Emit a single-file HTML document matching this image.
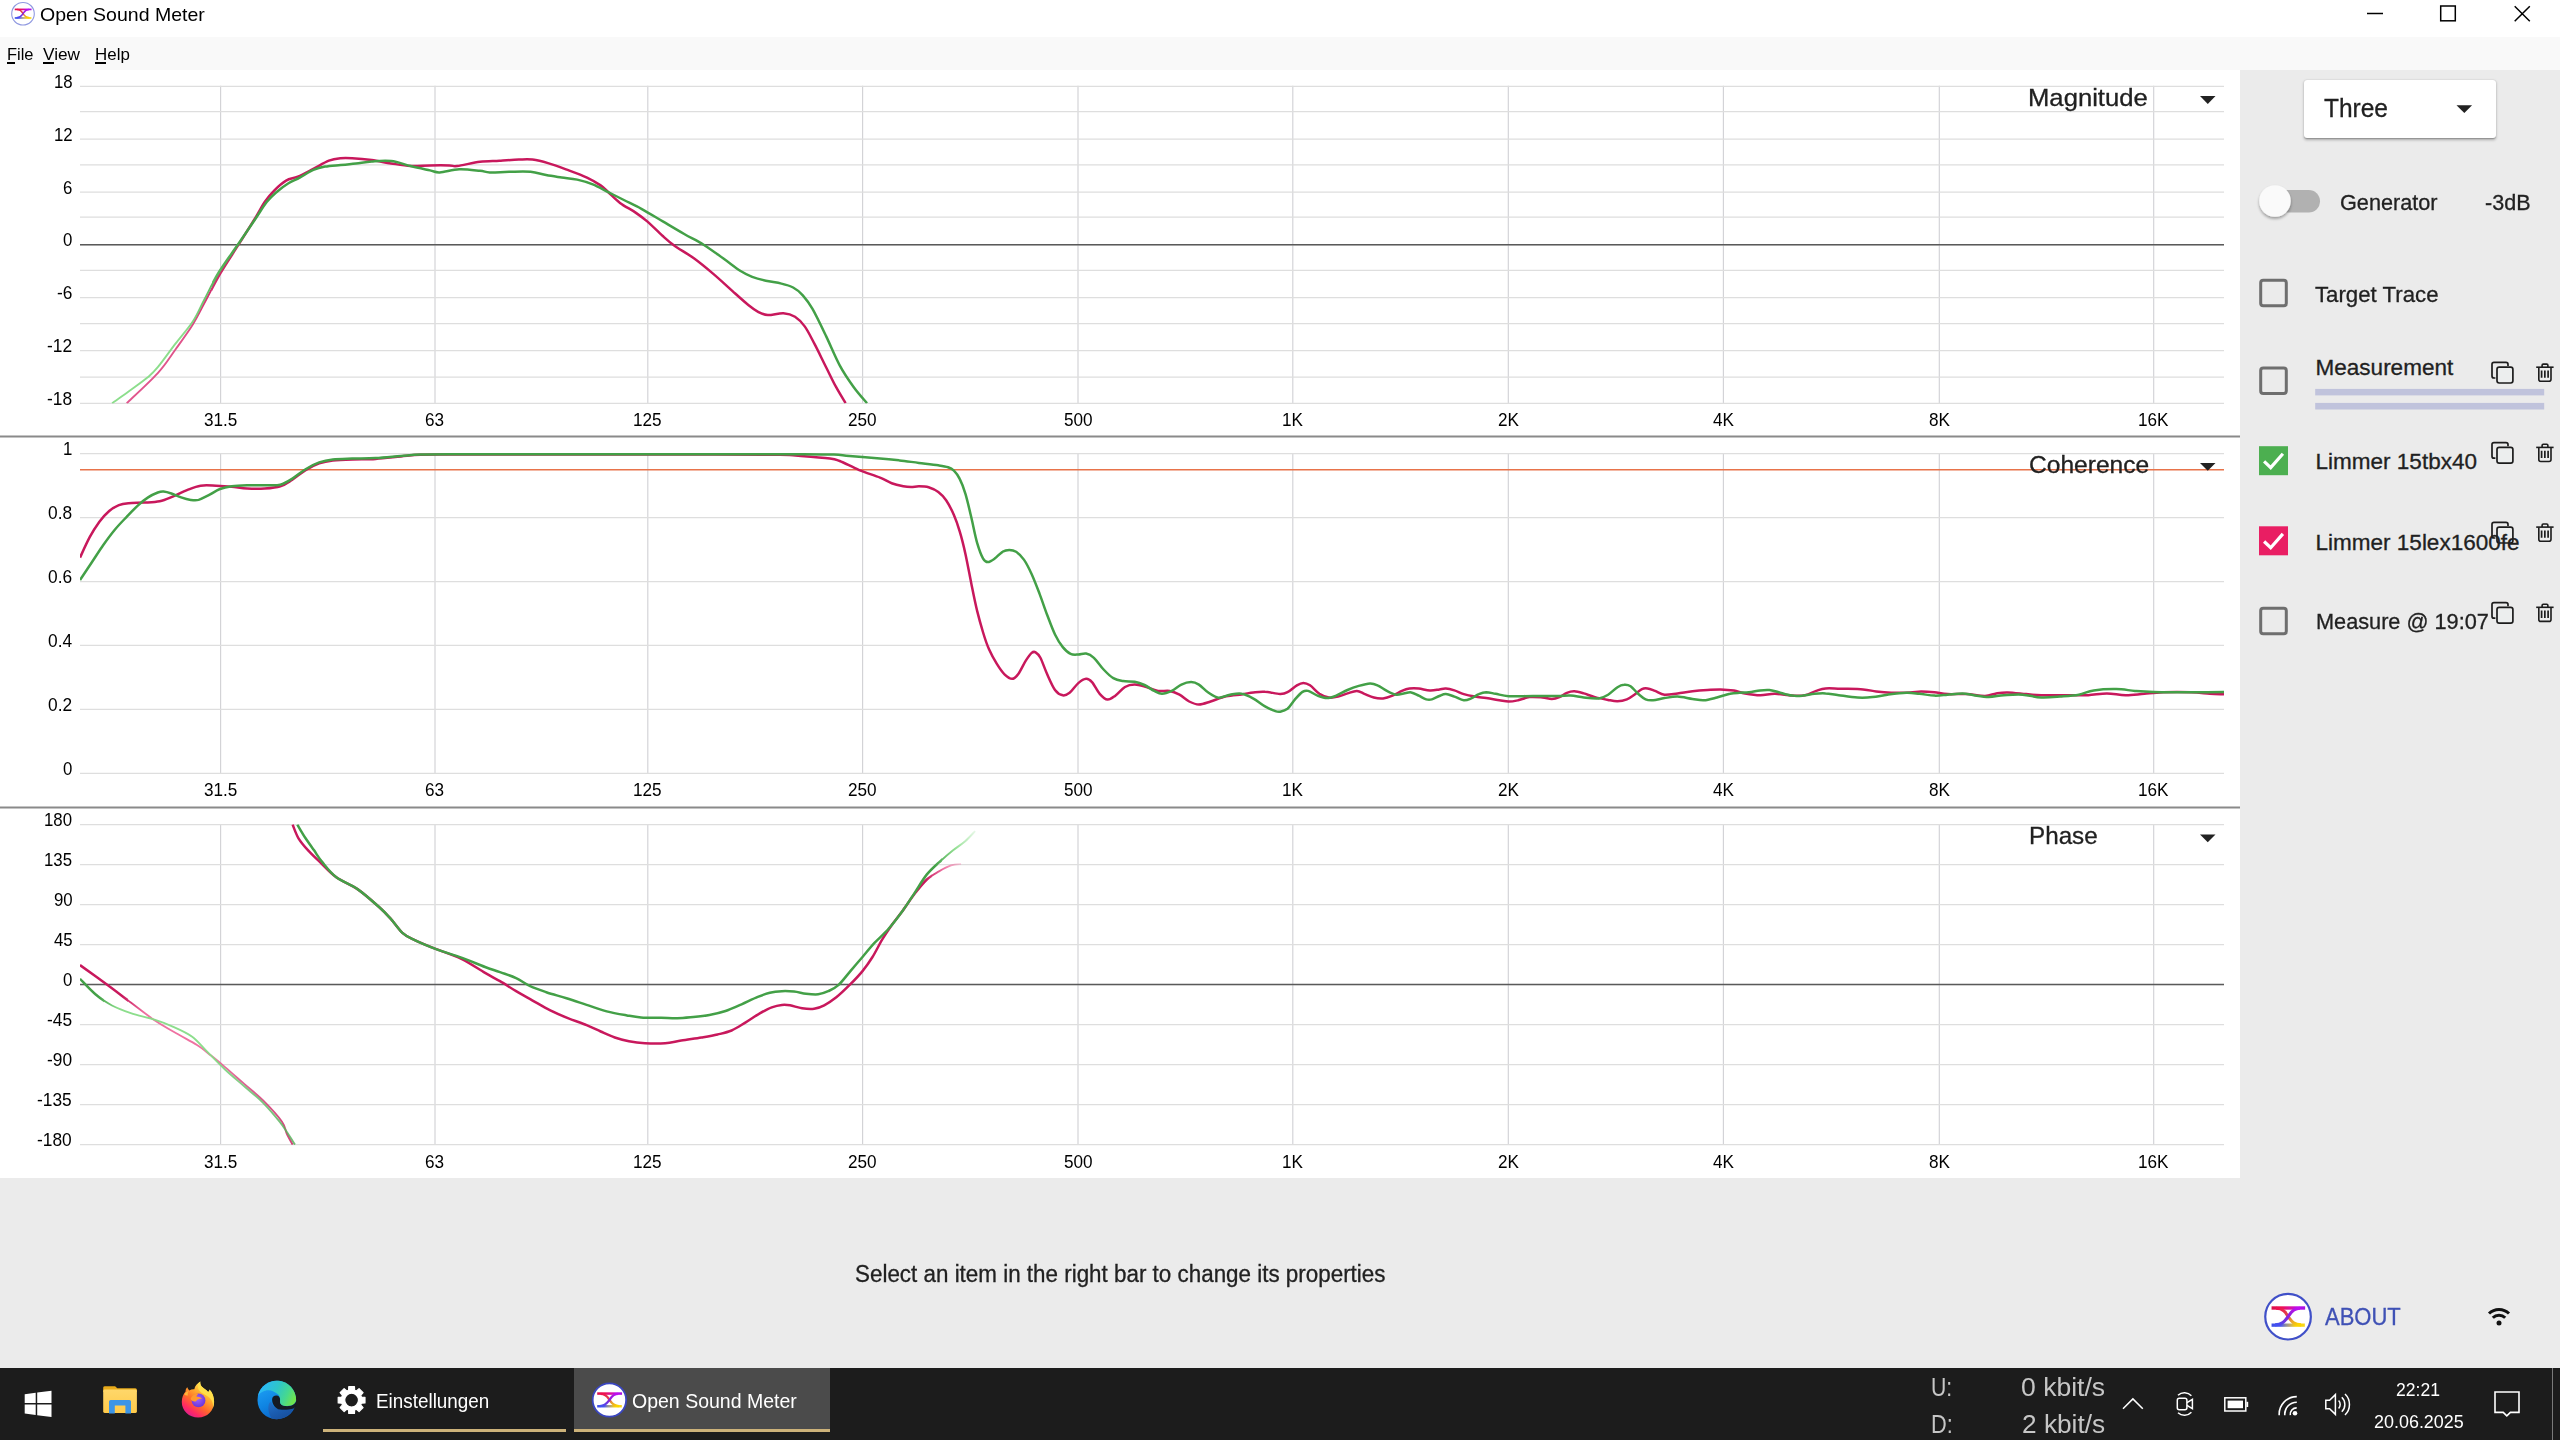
<!DOCTYPE html>
<html><head><meta charset="utf-8"><title>Open Sound Meter</title>
<style>
html,body{margin:0;padding:0;}
body{width:2560px;height:1440px;overflow:hidden;position:relative;background:#fff;font-family:"Liberation Sans",sans-serif;}
.t{position:absolute;white-space:nowrap;line-height:1;transform-origin:0 0;font-family:"Liberation Sans",sans-serif;}
.abs{position:absolute;}
svg{position:absolute;overflow:visible;}
</style></head><body>

<div class="abs" style="left:0;top:0;width:2560px;height:37px;background:#fff"></div>
<div class="abs" style="left:0;top:37px;width:2560px;height:33px;background:#f9f9f9"></div>
<div class="abs" style="left:0;top:70px;width:2240px;height:1108px;background:#fff"></div>
<div class="abs" style="left:0;top:1177.5px;width:2240px;height:191px;background:#ebebeb"></div>
<div class="abs" style="left:2240px;top:70px;width:320px;height:1298px;background:#ebebeb"></div>
<div class="abs" style="left:0;top:1368px;width:2560px;height:72px;background:#1c1c1c"></div>
<svg style="left:0;top:0" width="2560" height="1440"><g transform="translate(23.00 13.75) scale(0.5000)"><g>
<defs>
<linearGradient id="lgTa" gradientUnits="userSpaceOnUse" x1="-16.5" x2="17" y1="0" y2="0"><stop offset="0" stop-color="#d8104c"/><stop offset="0.3" stop-color="#ee1050"/><stop offset="0.6" stop-color="#d40fb0"/><stop offset="0.8" stop-color="#b80cf0"/><stop offset="1" stop-color="#a414e0"/></linearGradient>
<linearGradient id="lgBa" gradientUnits="userSpaceOnUse" x1="-16.5" x2="17" y1="0" y2="0"><stop offset="0" stop-color="#3d4fe8"/><stop offset="0.28" stop-color="#4a5af0"/><stop offset="0.42" stop-color="#8a8aa0"/><stop offset="0.58" stop-color="#c8b060"/><stop offset="0.72" stop-color="#fcd400"/><stop offset="1" stop-color="#f8d820"/></linearGradient>
<linearGradient id="lgD1a" gradientUnits="userSpaceOnUse" x1="-10" x2="10" y1="-8" y2="8"><stop offset="0" stop-color="#ee1050"/><stop offset="0.45" stop-color="#e04848"/><stop offset="0.7" stop-color="#e8a030"/><stop offset="1" stop-color="#fcd400"/></linearGradient>
<linearGradient id="lgD2a" gradientUnits="userSpaceOnUse" x1="10" x2="-10" y1="-8" y2="8"><stop offset="0" stop-color="#c00cf0"/><stop offset="0.5" stop-color="#8a22d8"/><stop offset="1" stop-color="#4450f0"/></linearGradient>
</defs>
<circle cx="0" cy="0" r="22.6" fill="#fff" stroke="#8f98e0" stroke-width="2.2"/>
<rect x="-16.5" y="-10.4" width="33.6" height="3.4" fill="url(#lgTa)"/>
<rect x="-16.5" y="6.8" width="33.3" height="3.3" fill="url(#lgBa)"/>
<path d="M-12 -8.4 C-3 -8.4 -1.5 -2 0.3 0.2 C3 3.6 5 8.2 13 8.2" fill="none" stroke="url(#lgD1a)" stroke-width="3.1"/>
<path d="M12 -8.4 C4 -8.4 2 -2.5 0 0 C-2.5 3.2 -5 8.2 -13 8.2" fill="none" stroke="url(#lgD2a)" stroke-width="3.1"/>
</g></g></svg>
<div class="t" style="left:40.20px;top:5.96px;font-size:18.60px;color:#000;transform:scaleX(1.0486);">Open Sound Meter</div>
<svg style="left:0;top:0" width="2560" height="40"><g stroke="#000" stroke-width="1.5" fill="none"><path d="M2367 13.5H2383"/><rect x="2440.7" y="6" width="14.6" height="14.8"/><path d="M2514.7 6.2L2529.8 21.3M2529.8 6.2L2514.7 21.3"/></g></svg>
<div class="t" style="left:6.50px;top:46.31px;font-size:17.00px;color:#000;transform:scaleX(0.9675);">File</div><div class="abs" style="left:6.5px;top:62.4px;width:8.3px;height:1.5px;background:#000"></div>
<div class="t" style="left:43.00px;top:46.31px;font-size:17.00px;color:#000;transform:scaleX(1.0126);">View</div><div class="abs" style="left:43.0px;top:62.4px;width:10.9px;height:1.5px;background:#000"></div>
<div class="t" style="left:94.60px;top:46.31px;font-size:17.00px;color:#000;transform:scaleX(0.9954);">Help</div><div class="abs" style="left:94.6px;top:62.4px;width:11.4px;height:1.5px;background:#000"></div>
<svg style="left:0;top:0" width="2240" height="1180" fill="none">
<defs>
<clipPath id="cm"><rect x="80" y="86" width="2144" height="317.6"/></clipPath>
<clipPath id="cc"><rect x="80" y="440" width="2144" height="335"/></clipPath>
<clipPath id="cp"><rect x="80" y="824.3" width="2144" height="320.6"/></clipPath>
<linearGradient id="gmg" gradientUnits="userSpaceOnUse" x1="100.0" y1="0" x2="900.0" y2="0"><stop offset="0.0000" stop-color="#86dc86" stop-opacity="0.95"/><stop offset="0.1062" stop-color="#86dc86" stop-opacity="0.95"/><stop offset="0.1437" stop-color="#5cb85f" stop-opacity="1.00"/><stop offset="0.1812" stop-color="#43a047" stop-opacity="1.00"/><stop offset="1.0000" stop-color="#43a047" stop-opacity="1.00"/></linearGradient>
<linearGradient id="gmr" gradientUnits="userSpaceOnUse" x1="100.0" y1="0" x2="900.0" y2="0"><stop offset="0.0000" stop-color="#e0508a" stop-opacity="0.95"/><stop offset="0.1062" stop-color="#de4a84" stop-opacity="0.95"/><stop offset="0.1437" stop-color="#d02a6a" stop-opacity="1.00"/><stop offset="0.1812" stop-color="#c8185c" stop-opacity="1.00"/><stop offset="1.0000" stop-color="#c8185c" stop-opacity="1.00"/></linearGradient>
<linearGradient id="gplg" gradientUnits="userSpaceOnUse" x1="80.0" y1="0" x2="300.0" y2="0"><stop offset="0.0000" stop-color="#43a047" stop-opacity="1.00"/><stop offset="0.0818" stop-color="#43a047" stop-opacity="1.00"/><stop offset="0.1727" stop-color="#86dc86" stop-opacity="0.95"/><stop offset="0.6136" stop-color="#86dc86" stop-opacity="0.95"/><stop offset="0.7273" stop-color="#66bf69" stop-opacity="0.80"/><stop offset="1.0000" stop-color="#55ad58" stop-opacity="0.85"/></linearGradient>
<linearGradient id="gplr" gradientUnits="userSpaceOnUse" x1="80.0" y1="0" x2="300.0" y2="0"><stop offset="0.0000" stop-color="#c8185c" stop-opacity="1.00"/><stop offset="0.1909" stop-color="#c8185c" stop-opacity="1.00"/><stop offset="0.2955" stop-color="#ee6a9c" stop-opacity="0.95"/><stop offset="0.6136" stop-color="#ee6a9c" stop-opacity="0.95"/><stop offset="0.7273" stop-color="#d84a82" stop-opacity="0.85"/><stop offset="1.0000" stop-color="#cc2a68" stop-opacity="0.90"/></linearGradient>
<linearGradient id="gphg" gradientUnits="userSpaceOnUse" x1="290.0" y1="0" x2="978.0" y2="0"><stop offset="0.0000" stop-color="#43a047" stop-opacity="1.00"/><stop offset="0.9375" stop-color="#43a047" stop-opacity="1.00"/><stop offset="0.9666" stop-color="#86dc86" stop-opacity="0.90"/><stop offset="1.0000" stop-color="#86dc86" stop-opacity="0.10"/></linearGradient>
<linearGradient id="gphr" gradientUnits="userSpaceOnUse" x1="290.0" y1="0" x2="964.0" y2="0"><stop offset="0.0000" stop-color="#c8185c" stop-opacity="1.00"/><stop offset="0.9421" stop-color="#c8185c" stop-opacity="1.00"/><stop offset="0.9718" stop-color="#ee6a9c" stop-opacity="0.90"/><stop offset="1.0000" stop-color="#ee6a9c" stop-opacity="0.15"/></linearGradient>
</defs>
<path d="M0 436.5H2240M0 807.5H2240" stroke="#8a8a8a" stroke-width="1.8"/>
<path d="M220.6 85.8V403.8" stroke="#d2d2d6" stroke-width="1.15"/>
<path d="M435.0 85.8V403.8" stroke="#d2d2d6" stroke-width="1.15"/>
<path d="M647.8 85.8V403.8" stroke="#d2d2d6" stroke-width="1.15"/>
<path d="M862.6 85.8V403.8" stroke="#d2d2d6" stroke-width="1.15"/>
<path d="M1078.0 85.8V403.8" stroke="#d2d2d6" stroke-width="1.15"/>
<path d="M1292.8 85.8V403.8" stroke="#d2d2d6" stroke-width="1.15"/>
<path d="M1508.3 85.8V403.8" stroke="#d2d2d6" stroke-width="1.15"/>
<path d="M1723.4 85.8V403.8" stroke="#d2d2d6" stroke-width="1.15"/>
<path d="M1939.3 85.8V403.8" stroke="#d2d2d6" stroke-width="1.15"/>
<path d="M2153.7 85.8V403.8" stroke="#d2d2d6" stroke-width="1.15"/>
<path d="M80 86.30H2224" stroke="#dedede" stroke-width="1.25"/>
<path d="M80 111.60H2224" stroke="#dedede" stroke-width="1.25"/>
<path d="M80 139.20H2224" stroke="#dedede" stroke-width="1.25"/>
<path d="M80 164.80H2224" stroke="#dedede" stroke-width="1.25"/>
<path d="M80 192.00H2224" stroke="#dedede" stroke-width="1.25"/>
<path d="M80 217.10H2224" stroke="#dedede" stroke-width="1.25"/>
<path d="M80 244.80H2224" stroke="#dedede" stroke-width="1.25"/>
<path d="M80 270.30H2224" stroke="#dedede" stroke-width="1.25"/>
<path d="M80 297.60H2224" stroke="#dedede" stroke-width="1.25"/>
<path d="M80 323.60H2224" stroke="#dedede" stroke-width="1.25"/>
<path d="M80 350.50H2224" stroke="#dedede" stroke-width="1.25"/>
<path d="M80 377.20H2224" stroke="#dedede" stroke-width="1.25"/>
<path d="M80 403.30H2224" stroke="#dedede" stroke-width="1.25"/>
<path d="M80 244.80H2224" stroke="#5a5a5a" stroke-width="1.5"/>
<path d="M220.6 453.1V773.9" stroke="#d2d2d6" stroke-width="1.15"/>
<path d="M435.0 453.1V773.9" stroke="#d2d2d6" stroke-width="1.15"/>
<path d="M647.8 453.1V773.9" stroke="#d2d2d6" stroke-width="1.15"/>
<path d="M862.6 453.1V773.9" stroke="#d2d2d6" stroke-width="1.15"/>
<path d="M1078.0 453.1V773.9" stroke="#d2d2d6" stroke-width="1.15"/>
<path d="M1292.8 453.1V773.9" stroke="#d2d2d6" stroke-width="1.15"/>
<path d="M1508.3 453.1V773.9" stroke="#d2d2d6" stroke-width="1.15"/>
<path d="M1723.4 453.1V773.9" stroke="#d2d2d6" stroke-width="1.15"/>
<path d="M1939.3 453.1V773.9" stroke="#d2d2d6" stroke-width="1.15"/>
<path d="M2153.7 453.1V773.9" stroke="#d2d2d6" stroke-width="1.15"/>
<path d="M80 453.60H2224" stroke="#dedede" stroke-width="1.25"/>
<path d="M80 517.56H2224" stroke="#dedede" stroke-width="1.25"/>
<path d="M80 581.52H2224" stroke="#dedede" stroke-width="1.25"/>
<path d="M80 645.48H2224" stroke="#dedede" stroke-width="1.25"/>
<path d="M80 709.44H2224" stroke="#dedede" stroke-width="1.25"/>
<path d="M80 773.40H2224" stroke="#dedede" stroke-width="1.25"/>
<path d="M220.6 824.0V1145.0" stroke="#d2d2d6" stroke-width="1.15"/>
<path d="M435.0 824.0V1145.0" stroke="#d2d2d6" stroke-width="1.15"/>
<path d="M647.8 824.0V1145.0" stroke="#d2d2d6" stroke-width="1.15"/>
<path d="M862.6 824.0V1145.0" stroke="#d2d2d6" stroke-width="1.15"/>
<path d="M1078.0 824.0V1145.0" stroke="#d2d2d6" stroke-width="1.15"/>
<path d="M1292.8 824.0V1145.0" stroke="#d2d2d6" stroke-width="1.15"/>
<path d="M1508.3 824.0V1145.0" stroke="#d2d2d6" stroke-width="1.15"/>
<path d="M1723.4 824.0V1145.0" stroke="#d2d2d6" stroke-width="1.15"/>
<path d="M1939.3 824.0V1145.0" stroke="#d2d2d6" stroke-width="1.15"/>
<path d="M2153.7 824.0V1145.0" stroke="#d2d2d6" stroke-width="1.15"/>
<path d="M80 824.50H2224" stroke="#dedede" stroke-width="1.25"/>
<path d="M80 864.50H2224" stroke="#dedede" stroke-width="1.25"/>
<path d="M80 904.50H2224" stroke="#dedede" stroke-width="1.25"/>
<path d="M80 944.50H2224" stroke="#dedede" stroke-width="1.25"/>
<path d="M80 984.50H2224" stroke="#dedede" stroke-width="1.25"/>
<path d="M80 1024.50H2224" stroke="#dedede" stroke-width="1.25"/>
<path d="M80 1064.50H2224" stroke="#dedede" stroke-width="1.25"/>
<path d="M80 1104.50H2224" stroke="#dedede" stroke-width="1.25"/>
<path d="M80 1144.50H2224" stroke="#dedede" stroke-width="1.25"/>
<path d="M80 984.50H2224" stroke="#5a5a5a" stroke-width="1.5"/>
<path d="M80 469.7H2224" stroke="#e8734a" stroke-width="1.6"/>
<clipPath id="k1"><rect x="80.0" y="86.0" width="132.0" height="317.6"/></clipPath><path d="M126.7 403.2C131.9 398.2 149.7 382.0 157.8 373.1C165.9 364.2 169.5 357.8 175.3 349.7C181.1 341.6 187.6 332.9 192.8 324.5C198.0 316.1 201.9 307.6 206.4 299.2C210.9 290.8 214.7 283.0 220.0 273.9C225.3 264.8 232.7 253.9 238.5 244.7C244.3 235.5 250.6 225.6 255.0 218.5C259.4 211.4 261.5 206.7 264.7 202.0C267.9 197.3 270.8 193.9 274.4 190.3C278.0 186.7 282.2 182.9 286.1 180.6C290.0 178.3 293.3 178.6 297.8 176.7C302.3 174.8 308.1 171.6 313.3 168.9C318.5 166.2 324.3 162.5 328.9 160.7C333.4 158.9 336.7 158.6 340.6 158.2C344.5 157.8 347.0 157.9 352.2 158.2C357.4 158.5 365.2 159.2 371.7 160.1C378.2 161.0 384.6 162.4 391.1 163.4C397.6 164.4 404.1 165.7 410.6 166.0C417.1 166.3 423.5 165.5 430.0 165.4C436.5 165.3 445.0 165.3 449.5 165.4C454.0 165.5 452.1 166.6 457.2 166.0C462.3 165.4 473.0 162.7 480.0 161.8C487.0 160.9 492.9 161.1 499.4 160.7C505.9 160.3 513.4 159.8 518.9 159.6C524.4 159.4 527.6 159.0 532.5 159.6C537.4 160.2 542.2 161.4 548.0 163.1C553.8 164.8 561.0 167.5 567.5 169.9C574.0 172.3 581.5 175.0 587.0 177.6C592.5 180.2 597.1 183.0 600.6 185.4C604.1 187.8 605.1 189.3 608.3 192.2C611.5 195.1 615.5 199.5 620.0 202.9C624.5 206.3 631.1 209.5 635.6 212.6C640.1 215.7 642.7 217.5 647.2 221.4C651.7 225.3 658.2 231.9 662.8 236.0C667.3 240.1 669.3 242.0 674.5 245.7C679.7 249.4 687.4 253.6 693.9 258.3C700.4 263.0 706.8 268.4 713.3 273.9C719.8 279.4 727.0 286.2 732.8 291.4C738.6 296.6 744.1 301.6 748.3 305.0C752.5 308.4 754.9 310.1 758.1 311.8C761.4 313.5 763.6 314.9 767.8 315.1C772.0 315.3 778.9 312.9 783.4 313.2C787.9 313.5 791.5 314.5 795.0 316.7C798.5 318.9 801.5 321.9 804.7 326.4C808.0 330.9 810.9 337.1 814.5 343.9C818.1 350.7 822.5 360.1 826.1 367.2C829.7 374.3 832.6 380.7 835.9 386.7C839.1 392.7 844.0 400.4 845.6 403.2" stroke="url(#gmr)" stroke-width="1.9" stroke-linejoin="round" clip-path="url(#k1)"/>
<clipPath id="k2"><rect x="212.0" y="86.0" width="2012.0" height="317.6"/></clipPath><path d="M126.7 403.2C131.9 398.2 149.7 382.0 157.8 373.1C165.9 364.2 169.5 357.8 175.3 349.7C181.1 341.6 187.6 332.9 192.8 324.5C198.0 316.1 201.9 307.6 206.4 299.2C210.9 290.8 214.7 283.0 220.0 273.9C225.3 264.8 232.7 253.9 238.5 244.7C244.3 235.5 250.6 225.6 255.0 218.5C259.4 211.4 261.5 206.7 264.7 202.0C267.9 197.3 270.8 193.9 274.4 190.3C278.0 186.7 282.2 182.9 286.1 180.6C290.0 178.3 293.3 178.6 297.8 176.7C302.3 174.8 308.1 171.6 313.3 168.9C318.5 166.2 324.3 162.5 328.9 160.7C333.4 158.9 336.7 158.6 340.6 158.2C344.5 157.8 347.0 157.9 352.2 158.2C357.4 158.5 365.2 159.2 371.7 160.1C378.2 161.0 384.6 162.4 391.1 163.4C397.6 164.4 404.1 165.7 410.6 166.0C417.1 166.3 423.5 165.5 430.0 165.4C436.5 165.3 445.0 165.3 449.5 165.4C454.0 165.5 452.1 166.6 457.2 166.0C462.3 165.4 473.0 162.7 480.0 161.8C487.0 160.9 492.9 161.1 499.4 160.7C505.9 160.3 513.4 159.8 518.9 159.6C524.4 159.4 527.6 159.0 532.5 159.6C537.4 160.2 542.2 161.4 548.0 163.1C553.8 164.8 561.0 167.5 567.5 169.9C574.0 172.3 581.5 175.0 587.0 177.6C592.5 180.2 597.1 183.0 600.6 185.4C604.1 187.8 605.1 189.3 608.3 192.2C611.5 195.1 615.5 199.5 620.0 202.9C624.5 206.3 631.1 209.5 635.6 212.6C640.1 215.7 642.7 217.5 647.2 221.4C651.7 225.3 658.2 231.9 662.8 236.0C667.3 240.1 669.3 242.0 674.5 245.7C679.7 249.4 687.4 253.6 693.9 258.3C700.4 263.0 706.8 268.4 713.3 273.9C719.8 279.4 727.0 286.2 732.8 291.4C738.6 296.6 744.1 301.6 748.3 305.0C752.5 308.4 754.9 310.1 758.1 311.8C761.4 313.5 763.6 314.9 767.8 315.1C772.0 315.3 778.9 312.9 783.4 313.2C787.9 313.5 791.5 314.5 795.0 316.7C798.5 318.9 801.5 321.9 804.7 326.4C808.0 330.9 810.9 337.1 814.5 343.9C818.1 350.7 822.5 360.1 826.1 367.2C829.7 374.3 832.6 380.7 835.9 386.7C839.1 392.7 844.0 400.4 845.6 403.2" stroke="url(#gmr)" stroke-width="2.5" stroke-linejoin="round" clip-path="url(#k2)"/>
<clipPath id="k3"><rect x="80.0" y="86.0" width="132.0" height="317.6"/></clipPath><path d="M112.1 403.2C114.8 401.2 122.6 395.9 128.6 391.5C134.6 387.1 143.2 381.1 148.1 377.0C153.0 372.9 153.3 372.7 157.8 367.2C162.3 361.7 169.5 351.5 175.3 343.9C181.1 336.3 187.9 328.9 192.8 321.5C197.7 314.1 200.1 307.4 204.5 299.2C208.9 290.9 213.3 281.2 219.0 272.0C224.7 262.8 232.5 252.6 238.5 243.8C244.5 235.1 250.3 226.5 255.0 219.5C259.7 212.5 263.1 206.6 266.7 202.0C270.3 197.4 272.8 195.3 276.4 192.2C280.0 189.1 284.2 185.9 288.1 183.5C292.0 181.1 295.5 179.9 299.7 177.6C303.9 175.3 309.1 171.7 313.3 169.9C317.5 168.1 320.4 167.4 325.0 166.6C329.6 165.8 335.4 165.5 340.6 165.0C345.8 164.5 350.9 164.0 356.1 163.4C361.3 162.8 365.9 161.9 371.7 161.5C377.5 161.1 384.6 160.3 391.1 161.1C397.6 161.8 404.1 164.4 410.6 166.0C417.1 167.6 425.1 169.3 430.0 170.4C434.9 171.5 434.8 172.6 439.7 172.4C444.6 172.2 452.5 169.6 459.2 169.3C465.9 169.0 474.9 170.3 480.0 170.8C485.1 171.3 484.8 172.2 489.7 172.4C494.6 172.6 502.4 171.9 509.2 171.8C516.0 171.7 524.5 171.2 530.6 171.8C536.8 172.4 540.9 174.1 546.1 175.1C551.3 176.1 556.5 176.8 561.7 177.6C566.9 178.3 572.0 178.5 577.2 179.6C582.4 180.7 587.6 182.3 592.8 184.4C598.0 186.5 603.1 189.6 608.3 192.2C613.5 194.8 618.4 197.2 623.9 200.0C629.4 202.8 634.9 205.2 641.4 208.8C647.9 212.4 655.7 217.2 662.8 221.4C669.9 225.6 677.4 230.1 684.2 234.0C691.0 237.9 697.1 240.6 703.6 244.7C710.1 248.8 716.9 253.9 723.1 258.3C729.3 262.7 735.8 267.9 740.6 271.0C745.5 274.1 748.0 275.2 752.2 276.8C756.4 278.4 760.9 279.6 765.8 280.7C770.7 281.8 776.8 282.5 781.4 283.6C786.0 284.7 789.5 285.6 793.1 287.5C796.7 289.4 799.6 291.7 802.8 295.3C806.0 298.9 808.6 302.1 812.5 308.9C816.4 315.7 821.6 326.7 826.1 336.1C830.6 345.5 835.2 356.9 839.7 365.3C844.2 373.7 848.9 380.4 853.4 386.7C857.9 393.0 864.7 400.4 867.0 403.2" stroke="url(#gmg)" stroke-width="1.9" stroke-linejoin="round" clip-path="url(#k3)"/>
<clipPath id="k4"><rect x="212.0" y="86.0" width="2012.0" height="317.6"/></clipPath><path d="M112.1 403.2C114.8 401.2 122.6 395.9 128.6 391.5C134.6 387.1 143.2 381.1 148.1 377.0C153.0 372.9 153.3 372.7 157.8 367.2C162.3 361.7 169.5 351.5 175.3 343.9C181.1 336.3 187.9 328.9 192.8 321.5C197.7 314.1 200.1 307.4 204.5 299.2C208.9 290.9 213.3 281.2 219.0 272.0C224.7 262.8 232.5 252.6 238.5 243.8C244.5 235.1 250.3 226.5 255.0 219.5C259.7 212.5 263.1 206.6 266.7 202.0C270.3 197.4 272.8 195.3 276.4 192.2C280.0 189.1 284.2 185.9 288.1 183.5C292.0 181.1 295.5 179.9 299.7 177.6C303.9 175.3 309.1 171.7 313.3 169.9C317.5 168.1 320.4 167.4 325.0 166.6C329.6 165.8 335.4 165.5 340.6 165.0C345.8 164.5 350.9 164.0 356.1 163.4C361.3 162.8 365.9 161.9 371.7 161.5C377.5 161.1 384.6 160.3 391.1 161.1C397.6 161.8 404.1 164.4 410.6 166.0C417.1 167.6 425.1 169.3 430.0 170.4C434.9 171.5 434.8 172.6 439.7 172.4C444.6 172.2 452.5 169.6 459.2 169.3C465.9 169.0 474.9 170.3 480.0 170.8C485.1 171.3 484.8 172.2 489.7 172.4C494.6 172.6 502.4 171.9 509.2 171.8C516.0 171.7 524.5 171.2 530.6 171.8C536.8 172.4 540.9 174.1 546.1 175.1C551.3 176.1 556.5 176.8 561.7 177.6C566.9 178.3 572.0 178.5 577.2 179.6C582.4 180.7 587.6 182.3 592.8 184.4C598.0 186.5 603.1 189.6 608.3 192.2C613.5 194.8 618.4 197.2 623.9 200.0C629.4 202.8 634.9 205.2 641.4 208.8C647.9 212.4 655.7 217.2 662.8 221.4C669.9 225.6 677.4 230.1 684.2 234.0C691.0 237.9 697.1 240.6 703.6 244.7C710.1 248.8 716.9 253.9 723.1 258.3C729.3 262.7 735.8 267.9 740.6 271.0C745.5 274.1 748.0 275.2 752.2 276.8C756.4 278.4 760.9 279.6 765.8 280.7C770.7 281.8 776.8 282.5 781.4 283.6C786.0 284.7 789.5 285.6 793.1 287.5C796.7 289.4 799.6 291.7 802.8 295.3C806.0 298.9 808.6 302.1 812.5 308.9C816.4 315.7 821.6 326.7 826.1 336.1C830.6 345.5 835.2 356.9 839.7 365.3C844.2 373.7 848.9 380.4 853.4 386.7C857.9 393.0 864.7 400.4 867.0 403.2" stroke="url(#gmg)" stroke-width="2.5" stroke-linejoin="round" clip-path="url(#k4)"/>
<g clip-path="url(#cc)" stroke-width="2.5" stroke-linejoin="round">
<path d="M80.0 557.6C81.6 554.2 86.5 543.2 89.7 537.2C92.9 531.2 96.2 526.1 99.4 521.7C102.7 517.3 106.0 513.8 109.2 511.0C112.5 508.2 115.7 506.4 118.9 505.1C122.1 503.8 124.4 503.6 128.6 503.2C132.8 502.8 139.0 502.9 144.2 502.6C149.4 502.3 154.8 502.3 159.7 501.3C164.5 500.3 168.8 498.2 173.3 496.4C177.9 494.5 182.4 492.0 187.0 490.2C191.6 488.4 195.8 486.4 200.6 485.7C205.4 484.9 210.9 485.5 216.1 485.7C221.3 485.9 226.5 486.2 231.7 486.7C236.9 487.2 241.7 488.3 247.2 488.6C252.7 488.9 259.2 489.0 264.7 488.6C270.2 488.2 275.8 487.8 280.3 486.3C284.9 484.9 287.8 482.6 292.0 479.9C296.2 477.2 301.1 472.9 305.6 470.1C310.1 467.3 314.7 464.9 319.2 463.3C323.7 461.7 327.3 461.0 332.8 460.4C338.3 459.8 345.1 459.6 352.2 459.4C359.3 459.1 367.5 459.4 375.6 458.9C383.7 458.4 393.4 457.2 400.9 456.5C408.3 455.8 412.2 455.1 420.3 454.8C428.4 454.5 439.6 454.6 449.5 454.6C459.4 454.6 454.9 454.6 480.0 454.6C505.1 454.6 563.3 454.6 600.0 454.6C636.7 454.6 670.0 454.6 700.0 454.6C730.0 454.6 763.2 454.6 780.0 454.8C796.8 455.0 792.6 455.4 800.9 456.0C809.2 456.6 823.5 457.7 830.0 458.5C836.5 459.3 834.8 459.1 839.7 461.0C844.6 462.9 852.5 467.3 859.2 470.1C865.9 472.9 874.6 475.4 880.0 477.6C885.4 479.8 887.8 481.8 891.7 483.2C895.6 484.6 900.1 485.6 903.3 486.3C906.5 487.0 908.5 487.1 911.1 487.1C913.7 487.1 916.0 486.3 918.9 486.3C921.8 486.3 925.4 486.3 928.6 487.3C931.8 488.3 935.4 489.9 938.3 492.1C941.2 494.3 943.5 496.5 946.1 500.3C948.7 504.1 951.6 509.7 953.9 514.9C956.2 520.1 957.8 524.8 959.7 531.4C961.7 538.0 963.7 546.0 965.6 554.7C967.5 563.5 969.5 574.5 971.4 583.9C973.3 593.3 975.2 603.0 977.2 611.1C979.2 619.2 981.2 626.2 983.1 632.5C985.0 638.8 986.6 643.8 988.9 649.0C991.2 654.2 994.1 659.4 996.7 663.6C999.3 667.8 1001.9 671.8 1004.5 674.3C1007.1 676.8 1009.9 678.8 1012.2 678.8C1014.5 678.8 1015.8 677.3 1018.1 674.3C1020.4 671.3 1023.5 664.3 1025.8 660.7C1028.1 657.1 1030.1 654.3 1031.7 652.9C1033.3 651.5 1034.1 651.5 1035.6 652.3C1037.0 653.1 1038.5 654.1 1040.4 657.8C1042.3 661.5 1044.8 668.9 1047.2 674.3C1049.6 679.6 1052.4 686.4 1055.0 689.9C1057.6 693.4 1060.4 694.8 1062.8 695.3C1065.2 695.8 1067.0 694.8 1069.6 692.8C1072.2 690.8 1075.5 685.4 1078.3 683.1C1081.0 680.8 1083.8 679.0 1086.1 678.8C1088.4 678.6 1089.7 679.6 1092.0 682.1C1094.3 684.6 1097.1 690.9 1099.7 693.8C1102.3 696.7 1104.9 699.3 1107.5 699.6C1110.1 699.9 1112.4 697.8 1115.3 695.7C1118.2 693.6 1121.8 688.9 1125.0 687.0C1128.2 685.1 1131.1 684.6 1134.7 684.6C1138.3 684.6 1142.5 686.0 1146.4 687.0C1150.3 688.0 1154.2 690.2 1158.1 690.9C1162.0 691.5 1166.1 690.3 1169.7 690.9C1173.3 691.5 1176.2 692.9 1179.5 694.7C1182.8 696.5 1186.0 699.9 1189.2 701.5C1192.4 703.1 1195.3 704.5 1198.9 704.5C1202.5 704.5 1206.1 702.9 1210.6 701.5C1215.1 700.1 1220.9 697.5 1226.1 696.3C1231.3 695.1 1237.2 695.0 1241.7 694.4C1246.2 693.8 1249.5 692.8 1253.4 692.4C1257.3 692.0 1260.6 691.5 1265.0 691.8C1269.4 692.0 1276.2 693.8 1280.0 693.9C1283.8 694.0 1284.7 693.7 1287.5 692.2C1290.3 690.8 1294.2 686.9 1296.9 685.3C1299.6 683.7 1301.2 682.9 1303.4 682.9C1305.6 682.9 1307.3 683.5 1310.0 685.3C1312.7 687.1 1316.3 691.7 1319.4 693.8C1322.5 695.8 1325.6 697.0 1328.8 697.5C1331.9 698.0 1335.0 697.3 1338.1 696.6C1341.2 695.9 1344.4 694.4 1347.5 693.4C1350.6 692.4 1354.1 690.8 1356.9 690.9C1359.7 691.0 1361.6 692.6 1364.4 693.8C1367.2 694.9 1370.6 696.7 1373.8 697.5C1376.9 698.3 1380.0 698.7 1383.1 698.4C1386.2 698.1 1389.4 696.9 1392.5 695.6C1395.6 694.4 1399.1 692.1 1401.9 690.9C1404.7 689.7 1406.6 688.9 1409.4 688.5C1412.2 688.1 1415.3 688.1 1418.8 688.5C1422.2 688.9 1426.6 690.5 1430.0 690.6C1433.4 690.8 1436.8 689.8 1439.4 689.4C1442.1 689.0 1443.4 688.3 1445.9 688.5C1448.4 688.7 1451.4 689.5 1454.4 690.4C1457.4 691.3 1460.3 693.1 1463.8 694.1C1467.2 695.1 1471.2 695.9 1475.0 696.6C1478.8 697.3 1482.2 697.5 1486.2 698.1C1490.3 698.7 1495.7 699.7 1499.4 700.3C1503.2 700.9 1505.6 701.6 1508.8 701.6C1511.9 701.6 1514.7 701.0 1518.1 700.3C1521.5 699.5 1525.3 697.6 1529.4 697.1C1533.5 696.6 1538.8 697.2 1542.5 697.5C1546.2 697.8 1549.1 699.1 1551.9 699.0C1554.7 698.9 1556.9 698.1 1559.4 697.1C1561.9 696.1 1564.4 693.8 1566.9 692.8C1569.4 691.8 1571.6 691.2 1574.4 691.3C1577.2 691.4 1580.3 692.4 1583.8 693.4C1587.2 694.4 1590.9 696.0 1595.0 697.1C1599.1 698.2 1604.3 699.2 1608.1 699.9C1611.8 700.6 1614.4 701.3 1617.5 701.2C1620.6 701.2 1624.1 700.5 1626.9 699.4C1629.7 698.3 1631.9 696.4 1634.4 694.7C1636.9 693.0 1639.7 690.1 1641.9 689.1C1644.1 688.1 1645.3 688.2 1647.5 688.5C1649.7 688.8 1652.2 689.9 1655.0 690.9C1657.8 691.9 1660.7 694.3 1664.4 694.7C1668.2 695.1 1672.8 694.0 1677.5 693.4C1682.2 692.8 1687.5 691.9 1692.5 691.3C1697.5 690.7 1702.8 690.3 1707.5 690.0C1712.2 689.7 1716.2 689.3 1720.6 689.4C1725.0 689.5 1729.7 689.9 1733.8 690.6C1737.8 691.3 1740.6 692.6 1745.0 693.4C1749.4 694.2 1755.0 695.2 1760.0 695.2C1765.0 695.3 1769.7 693.7 1775.0 693.8C1780.3 693.8 1786.9 695.4 1791.9 695.6C1796.9 695.9 1800.9 696.0 1805.0 695.2C1809.1 694.5 1812.8 692.0 1816.2 690.9C1819.7 689.8 1821.5 688.9 1825.6 688.5C1829.7 688.1 1834.3 688.6 1840.6 688.7C1846.8 688.9 1857.2 688.9 1863.1 689.4C1869.0 689.9 1871.6 690.9 1876.2 691.5C1880.9 692.1 1885.6 692.6 1891.2 692.8C1896.9 692.9 1905.0 692.6 1910.0 692.4C1915.0 692.2 1917.2 691.5 1921.2 691.5C1925.3 691.5 1930.0 691.8 1934.4 692.2C1938.8 692.7 1942.2 693.8 1947.5 694.1C1952.8 694.4 1960.0 693.8 1966.2 694.1C1972.5 694.4 1980.0 696.1 1985.0 696.0C1990.0 695.9 1992.5 694.0 1996.2 693.4C2000.0 692.8 2002.5 692.3 2007.5 692.4C2012.5 692.5 2020.6 693.6 2026.2 694.1C2031.9 694.6 2034.1 695.1 2041.2 695.2C2048.4 695.4 2061.6 695.2 2069.4 695.2C2077.2 695.2 2081.8 695.6 2088.1 695.2C2094.3 694.9 2100.7 693.4 2106.9 693.4C2113.2 693.4 2119.3 695.2 2125.6 695.2C2131.8 695.3 2138.2 694.2 2144.4 693.8C2150.7 693.2 2155.3 692.5 2163.1 692.2C2170.9 692.0 2183.4 692.0 2191.2 692.2C2199.1 692.5 2204.5 693.4 2210.0 693.8C2215.5 694.1 2221.7 694.2 2224.0 694.3" stroke="#c8185c"/>
<path d="M80.0 580.0C82.0 577.1 87.8 568.3 91.7 562.5C95.6 556.7 99.4 550.5 103.3 545.0C107.2 539.5 111.1 534.2 115.0 529.5C118.9 524.8 122.8 520.9 126.7 516.8C130.6 512.7 134.7 508.3 138.3 505.1C141.9 501.9 144.8 499.5 148.1 497.4C151.3 495.3 155.2 493.5 157.8 492.5C160.4 491.5 161.3 491.3 163.6 491.5C165.9 491.7 168.5 492.5 171.4 493.5C174.3 494.5 177.9 496.3 181.1 497.4C184.3 498.5 187.9 499.5 190.8 499.9C193.7 500.3 195.7 500.6 198.6 499.9C201.5 499.1 204.7 497.2 208.3 495.4C211.9 493.6 216.1 490.5 220.0 489.0C223.9 487.5 227.2 486.9 231.7 486.3C236.2 485.7 241.4 485.5 247.2 485.3C253.0 485.1 261.2 485.4 266.7 485.3C272.2 485.2 276.1 485.8 280.3 484.7C284.5 483.6 287.8 481.5 292.0 478.9C296.2 476.3 301.1 471.9 305.6 469.2C310.1 466.4 314.7 464.0 319.2 462.4C323.7 460.8 327.3 460.0 332.8 459.4C338.3 458.8 345.1 458.8 352.2 458.6C359.3 458.4 367.5 458.5 375.6 458.1C383.7 457.7 393.4 456.6 400.9 456.0C408.3 455.4 412.2 454.8 420.3 454.5C428.4 454.2 439.6 454.2 449.5 454.2C459.4 454.1 454.9 454.2 480.0 454.2C505.1 454.2 563.3 454.2 600.0 454.2C636.7 454.2 666.7 454.2 700.0 454.2C733.3 454.2 777.7 454.1 800.0 454.2C822.3 454.3 825.6 454.3 833.9 454.6C842.1 454.9 841.8 455.5 849.5 456.1C857.2 456.8 871.7 457.8 880.0 458.5C888.3 459.2 892.9 459.7 899.4 460.4C905.9 461.1 912.4 462.1 918.9 462.9C925.4 463.7 933.4 464.6 938.3 465.3C943.2 466.0 945.5 466.3 948.1 467.2C950.7 468.1 952.0 468.8 953.9 470.7C955.8 472.6 957.8 474.9 959.7 478.9C961.7 482.8 963.7 487.9 965.6 494.4C967.5 500.9 969.5 509.7 971.4 517.8C973.3 525.9 975.2 536.3 977.2 543.1C979.2 549.9 981.3 555.4 983.1 558.6C984.9 561.8 986.0 562.1 987.9 562.1C989.8 562.1 992.3 560.3 994.7 558.6C997.1 556.9 1000.1 553.2 1002.5 551.8C1004.9 550.3 1007.0 549.9 1009.3 549.9C1011.6 549.9 1013.7 550.2 1016.1 551.8C1018.5 553.4 1021.3 555.9 1023.9 559.6C1026.5 563.3 1029.1 568.5 1031.7 574.2C1034.3 579.9 1036.9 586.8 1039.5 593.6C1042.1 600.4 1044.6 608.2 1047.2 615.0C1049.8 621.8 1052.4 629.1 1055.0 634.5C1057.6 639.9 1060.2 643.9 1062.8 647.1C1065.4 650.3 1068.0 652.7 1070.6 653.9C1073.2 655.1 1075.7 654.6 1078.3 654.5C1080.9 654.4 1083.5 653.0 1086.1 653.5C1088.7 654.0 1091.0 655.1 1093.9 657.8C1096.8 660.5 1100.4 666.1 1103.6 669.5C1106.8 672.9 1110.0 676.3 1113.3 678.2C1116.5 680.1 1119.5 680.5 1123.1 681.1C1126.7 681.7 1131.1 681.1 1134.7 681.7C1138.3 682.4 1141.2 683.5 1144.5 685.0C1147.8 686.5 1151.3 689.4 1154.2 690.9C1157.1 692.4 1159.1 693.8 1162.0 693.8C1164.9 693.8 1168.5 692.4 1171.7 690.9C1174.9 689.4 1178.2 686.1 1181.4 684.6C1184.6 683.1 1188.2 682.1 1191.1 682.1C1194.0 682.1 1196.0 682.8 1198.9 684.6C1201.8 686.4 1205.3 690.6 1208.6 692.8C1211.8 695.0 1214.8 697.4 1218.4 697.7C1222.0 698.0 1226.1 695.4 1230.0 694.7C1233.9 694.1 1237.8 693.1 1241.7 693.8C1245.6 694.4 1249.5 696.5 1253.4 698.6C1257.3 700.7 1261.4 704.4 1265.0 706.4C1268.6 708.4 1272.3 710.0 1274.8 710.9C1277.3 711.8 1277.9 712.1 1280.0 711.7C1282.1 711.3 1285.0 710.8 1287.5 708.8C1290.0 706.7 1292.5 702.2 1295.0 699.4C1297.5 696.6 1300.3 693.3 1302.5 691.9C1304.7 690.5 1305.6 690.3 1308.1 690.9C1310.6 691.5 1314.4 694.4 1317.5 695.6C1320.6 696.8 1323.8 698.1 1326.9 698.1C1330.0 698.1 1332.8 697.0 1336.2 695.6C1339.7 694.2 1343.8 691.6 1347.5 690.0C1351.2 688.4 1355.0 687.0 1358.8 685.9C1362.5 684.8 1366.9 683.5 1370.0 683.4C1373.1 683.3 1374.7 684.0 1377.5 685.3C1380.3 686.5 1383.8 689.3 1386.9 690.9C1390.0 692.5 1393.4 694.3 1396.2 694.7C1399.1 695.1 1401.2 693.8 1403.8 693.4C1406.2 693.0 1408.8 692.0 1411.2 692.4C1413.8 692.8 1416.2 694.4 1418.8 695.6C1421.2 696.8 1424.1 698.8 1426.2 699.4C1428.4 700.0 1429.7 700.0 1431.9 699.4C1434.1 698.8 1437.1 696.9 1439.4 696.0C1441.7 695.1 1443.4 694.0 1445.9 694.1C1448.4 694.2 1451.4 695.6 1454.4 696.6C1457.4 697.6 1460.9 700.0 1463.8 700.3C1466.6 700.6 1468.8 699.4 1471.2 698.4C1473.8 697.4 1476.2 695.1 1478.8 694.1C1481.2 693.1 1483.4 692.3 1486.2 692.2C1489.1 692.2 1491.8 693.1 1495.6 693.8C1499.3 694.4 1502.5 695.8 1508.8 696.2C1515.0 696.6 1525.0 696.0 1533.1 696.0C1541.2 696.0 1551.2 696.1 1557.5 696.0C1563.8 695.9 1566.2 695.4 1570.6 695.6C1575.0 695.9 1579.1 697.0 1583.8 697.5C1588.4 698.0 1594.7 698.9 1598.8 698.4C1602.8 697.9 1605.0 696.6 1608.1 694.7C1611.2 692.8 1614.8 688.9 1617.5 687.2C1620.2 685.5 1621.9 684.9 1624.1 684.8C1626.3 684.6 1628.3 684.8 1630.6 686.2C1632.9 687.8 1635.6 691.6 1638.1 693.8C1640.6 695.9 1643.1 698.3 1645.6 699.4C1648.1 700.5 1650.0 700.5 1653.1 700.3C1656.2 700.1 1660.3 698.7 1664.4 698.1C1668.5 697.5 1672.8 696.5 1677.5 696.6C1682.2 696.8 1688.1 698.4 1692.5 699.0C1696.9 699.6 1699.7 700.5 1703.8 700.3C1707.8 700.0 1712.5 698.6 1716.9 697.5C1721.3 696.4 1726.2 694.5 1730.0 693.8C1733.8 693.0 1736.3 693.0 1739.4 692.8C1742.5 692.5 1745.3 692.6 1748.8 692.2C1752.2 691.9 1756.6 690.8 1760.0 690.4C1763.4 690.0 1766.3 689.7 1769.4 690.0C1772.5 690.3 1775.0 691.3 1778.8 692.2C1782.5 693.2 1787.8 695.0 1791.9 695.6C1796.0 696.2 1799.3 695.9 1803.1 695.6C1806.8 695.3 1810.7 694.1 1814.4 693.8C1818.2 693.4 1821.5 693.1 1825.6 693.4C1829.7 693.6 1833.4 694.6 1838.8 695.2C1844.1 695.9 1851.9 697.2 1857.5 697.5C1863.1 697.8 1867.5 697.6 1872.5 697.1C1877.5 696.6 1881.9 695.4 1887.5 694.7C1893.1 694.0 1900.9 693.0 1906.2 692.8C1911.6 692.6 1914.7 693.3 1919.4 693.8C1924.1 694.2 1929.7 695.4 1934.4 695.6C1939.1 695.8 1942.8 695.1 1947.5 694.7C1952.2 694.3 1958.1 693.3 1962.5 693.4C1966.9 693.5 1969.4 694.7 1973.8 695.2C1978.1 695.8 1983.8 696.9 1988.8 696.9C1993.8 696.9 1998.1 695.6 2003.8 695.2C2009.4 694.9 2016.2 694.3 2022.5 694.7C2028.8 695.1 2035.0 697.2 2041.2 697.5C2047.5 697.8 2053.8 697.1 2060.0 696.6C2066.2 696.1 2073.1 695.7 2078.8 694.7C2084.4 693.7 2087.5 691.3 2093.8 690.4C2100.0 689.5 2109.4 689.0 2116.2 689.1C2123.1 689.2 2128.8 690.4 2135.0 690.9C2141.2 691.4 2144.4 691.7 2153.8 691.9C2163.1 692.1 2179.5 692.2 2191.2 692.2C2203.0 692.2 2218.5 692.0 2224.0 691.9" stroke="#43a047"/>
</g>
<clipPath id="k5"><rect x="80.0" y="824.3" width="48.0" height="320.6"/></clipPath><path d="M80.0 965.1C84.5 968.4 98.7 978.5 107.2 984.7C115.7 990.9 122.9 996.6 130.8 1002.5C138.7 1008.4 146.6 1014.9 154.5 1020.2C162.4 1025.5 171.0 1030.2 178.1 1034.3C185.2 1038.4 191.5 1041.5 197.0 1045.0C202.5 1048.5 206.4 1051.9 211.1 1055.6C215.8 1059.3 219.8 1062.7 225.3 1067.4C230.8 1072.1 237.9 1078.4 244.2 1083.9C250.5 1089.4 256.8 1094.1 263.1 1100.4C269.4 1106.7 278.1 1116.2 282.0 1121.7C285.9 1127.2 284.9 1129.7 286.7 1133.5C288.5 1137.3 291.6 1142.8 292.6 1144.6" stroke="url(#gplr)" stroke-width="2.5" stroke-linejoin="round" clip-path="url(#k5)"/>
<clipPath id="k6"><rect x="128.0" y="824.3" width="192.0" height="320.6"/></clipPath><path d="M80.0 965.1C84.5 968.4 98.7 978.5 107.2 984.7C115.7 990.9 122.9 996.6 130.8 1002.5C138.7 1008.4 146.6 1014.9 154.5 1020.2C162.4 1025.5 171.0 1030.2 178.1 1034.3C185.2 1038.4 191.5 1041.5 197.0 1045.0C202.5 1048.5 206.4 1051.9 211.1 1055.6C215.8 1059.3 219.8 1062.7 225.3 1067.4C230.8 1072.1 237.9 1078.4 244.2 1083.9C250.5 1089.4 256.8 1094.1 263.1 1100.4C269.4 1106.7 278.1 1116.2 282.0 1121.7C285.9 1127.2 284.9 1129.7 286.7 1133.5C288.5 1137.3 291.6 1142.8 292.6 1144.6" stroke="url(#gplr)" stroke-width="1.9" stroke-linejoin="round" clip-path="url(#k6)"/>
<clipPath id="k7"><rect x="80.0" y="824.3" width="24.0" height="320.6"/></clipPath><path d="M80.0 978.8C82.6 981.4 90.1 989.8 95.4 994.2C100.7 998.7 106.1 1002.4 112.0 1005.5C117.9 1008.6 123.7 1010.7 130.8 1013.1C137.9 1015.5 147.4 1017.4 154.5 1019.7C161.6 1022.0 167.0 1024.0 173.3 1026.8C179.6 1029.6 186.7 1032.7 192.2 1036.7C197.7 1040.7 200.9 1045.4 206.4 1050.9C211.9 1056.4 219.0 1063.8 225.3 1069.8C231.6 1075.7 237.9 1080.8 244.2 1086.3C250.5 1091.8 257.2 1096.9 263.1 1102.8C269.0 1108.7 275.5 1116.6 279.6 1121.7C283.7 1126.8 285.3 1129.7 287.9 1133.5C290.5 1137.3 293.8 1142.8 295.0 1144.6" stroke="url(#gplg)" stroke-width="2.5" stroke-linejoin="round" clip-path="url(#k7)"/>
<clipPath id="k8"><rect x="104.0" y="824.3" width="216.0" height="320.6"/></clipPath><path d="M80.0 978.8C82.6 981.4 90.1 989.8 95.4 994.2C100.7 998.7 106.1 1002.4 112.0 1005.5C117.9 1008.6 123.7 1010.7 130.8 1013.1C137.9 1015.5 147.4 1017.4 154.5 1019.7C161.6 1022.0 167.0 1024.0 173.3 1026.8C179.6 1029.6 186.7 1032.7 192.2 1036.7C197.7 1040.7 200.9 1045.4 206.4 1050.9C211.9 1056.4 219.0 1063.8 225.3 1069.8C231.6 1075.7 237.9 1080.8 244.2 1086.3C250.5 1091.8 257.2 1096.9 263.1 1102.8C269.0 1108.7 275.5 1116.6 279.6 1121.7C283.7 1126.8 285.3 1129.7 287.9 1133.5C290.5 1137.3 293.8 1142.8 295.0 1144.6" stroke="url(#gplg)" stroke-width="1.9" stroke-linejoin="round" clip-path="url(#k8)"/>
<clipPath id="k9"><rect x="280.0" y="824.3" width="652.0" height="320.6"/></clipPath><path d="M292.6 824.6C293.6 826.9 295.9 834.0 298.5 838.3C301.1 842.5 304.3 846.2 307.9 850.1C311.4 854.0 315.1 857.4 319.8 861.9C324.5 866.4 330.0 872.8 336.3 877.3C342.6 881.8 350.4 884.2 357.5 889.1C364.6 894.0 373.3 901.9 378.8 906.8C384.3 911.7 386.7 914.3 390.6 918.6C394.5 922.9 398.5 929.2 402.4 932.8C406.3 936.3 408.7 937.2 414.2 939.9C419.7 942.6 427.6 945.8 435.5 948.9C443.4 952.0 453.1 954.8 461.4 958.8C469.7 962.8 478.7 969.2 485.1 972.9C491.5 976.6 494.8 978.2 500.0 981.2C505.2 984.2 510.7 988.0 516.1 991.2C521.5 994.4 526.5 997.1 532.2 1000.3C537.9 1003.5 544.2 1007.4 550.3 1010.4C556.3 1013.4 562.5 1016.0 568.5 1018.4C574.5 1020.8 581.2 1022.9 586.6 1025.1C592.0 1027.3 596.0 1029.4 600.7 1031.5C605.4 1033.6 610.1 1035.9 614.8 1037.5C619.5 1039.1 623.9 1040.2 628.9 1041.2C633.9 1042.2 639.0 1042.9 645.0 1043.2C651.0 1043.5 659.1 1043.6 665.1 1043.2C671.1 1042.8 675.2 1041.5 681.2 1040.6C687.2 1039.6 695.4 1038.5 701.4 1037.5C707.4 1036.5 712.5 1035.7 717.5 1034.5C722.5 1033.3 726.9 1032.5 731.6 1030.5C736.3 1028.5 741.0 1025.2 745.7 1022.4C750.4 1019.5 755.4 1015.9 759.8 1013.4C764.1 1010.9 768.1 1008.7 771.8 1007.3C775.5 1005.9 778.9 1005.2 781.9 1004.9C784.9 1004.6 786.6 1004.7 790.0 1005.3C793.4 1005.9 798.1 1007.7 802.1 1008.3C806.1 1008.9 810.4 1009.3 814.1 1008.8C817.8 1008.3 820.5 1007.2 824.2 1005.3C827.9 1003.4 831.9 1000.8 836.3 997.3C840.7 993.8 846.0 988.6 850.4 984.2C854.8 979.8 858.8 975.6 862.5 971.1C866.2 966.6 869.1 962.4 872.5 957.0C875.9 951.6 879.2 944.4 882.6 938.9C886.0 933.4 889.4 928.5 892.7 923.8C896.1 919.1 899.0 915.7 902.7 910.7C906.4 905.7 910.8 898.8 914.8 893.6C918.8 888.4 922.9 883.2 926.9 879.5C930.9 875.8 935.0 873.8 939.0 871.4C943.0 869.0 947.4 866.6 951.1 865.4C954.8 864.2 959.4 864.2 961.1 864.0" stroke="url(#gphr)" stroke-width="2.5" stroke-linejoin="round" clip-path="url(#k9)"/>
<clipPath id="k10"><rect x="932.0" y="824.3" width="68.0" height="320.6"/></clipPath><path d="M292.6 824.6C293.6 826.9 295.9 834.0 298.5 838.3C301.1 842.5 304.3 846.2 307.9 850.1C311.4 854.0 315.1 857.4 319.8 861.9C324.5 866.4 330.0 872.8 336.3 877.3C342.6 881.8 350.4 884.2 357.5 889.1C364.6 894.0 373.3 901.9 378.8 906.8C384.3 911.7 386.7 914.3 390.6 918.6C394.5 922.9 398.5 929.2 402.4 932.8C406.3 936.3 408.7 937.2 414.2 939.9C419.7 942.6 427.6 945.8 435.5 948.9C443.4 952.0 453.1 954.8 461.4 958.8C469.7 962.8 478.7 969.2 485.1 972.9C491.5 976.6 494.8 978.2 500.0 981.2C505.2 984.2 510.7 988.0 516.1 991.2C521.5 994.4 526.5 997.1 532.2 1000.3C537.9 1003.5 544.2 1007.4 550.3 1010.4C556.3 1013.4 562.5 1016.0 568.5 1018.4C574.5 1020.8 581.2 1022.9 586.6 1025.1C592.0 1027.3 596.0 1029.4 600.7 1031.5C605.4 1033.6 610.1 1035.9 614.8 1037.5C619.5 1039.1 623.9 1040.2 628.9 1041.2C633.9 1042.2 639.0 1042.9 645.0 1043.2C651.0 1043.5 659.1 1043.6 665.1 1043.2C671.1 1042.8 675.2 1041.5 681.2 1040.6C687.2 1039.6 695.4 1038.5 701.4 1037.5C707.4 1036.5 712.5 1035.7 717.5 1034.5C722.5 1033.3 726.9 1032.5 731.6 1030.5C736.3 1028.5 741.0 1025.2 745.7 1022.4C750.4 1019.5 755.4 1015.9 759.8 1013.4C764.1 1010.9 768.1 1008.7 771.8 1007.3C775.5 1005.9 778.9 1005.2 781.9 1004.9C784.9 1004.6 786.6 1004.7 790.0 1005.3C793.4 1005.9 798.1 1007.7 802.1 1008.3C806.1 1008.9 810.4 1009.3 814.1 1008.8C817.8 1008.3 820.5 1007.2 824.2 1005.3C827.9 1003.4 831.9 1000.8 836.3 997.3C840.7 993.8 846.0 988.6 850.4 984.2C854.8 979.8 858.8 975.6 862.5 971.1C866.2 966.6 869.1 962.4 872.5 957.0C875.9 951.6 879.2 944.4 882.6 938.9C886.0 933.4 889.4 928.5 892.7 923.8C896.1 919.1 899.0 915.7 902.7 910.7C906.4 905.7 910.8 898.8 914.8 893.6C918.8 888.4 922.9 883.2 926.9 879.5C930.9 875.8 935.0 873.8 939.0 871.4C943.0 869.0 947.4 866.6 951.1 865.4C954.8 864.2 959.4 864.2 961.1 864.0" stroke="url(#gphr)" stroke-width="1.9" stroke-linejoin="round" clip-path="url(#k10)"/>
<clipPath id="k11"><rect x="280.0" y="824.3" width="662.0" height="320.6"/></clipPath><path d="M297.3 824.6C298.7 826.9 302.8 834.0 305.6 838.3C308.4 842.5 311.1 846.2 313.9 850.1C316.6 854.0 318.4 857.4 322.1 861.9C325.8 866.4 330.4 872.8 336.3 877.3C342.2 881.8 350.4 884.2 357.5 889.1C364.6 894.0 373.3 901.9 378.8 906.8C384.3 911.7 386.7 914.3 390.6 918.6C394.5 922.9 398.5 929.2 402.4 932.8C406.3 936.3 408.7 937.2 414.2 939.9C419.7 942.6 427.6 945.9 435.5 948.9C443.4 951.9 453.1 954.6 461.4 957.6C469.7 960.6 478.7 964.6 485.1 967.0C491.5 969.4 494.8 970.2 500.0 972.1C505.2 974.0 511.1 975.8 516.1 978.1C521.1 980.5 525.2 983.9 530.2 986.2C535.2 988.6 540.2 990.2 546.3 992.2C552.3 994.2 559.8 996.2 566.5 998.3C573.2 1000.4 579.9 1002.7 586.6 1004.9C593.3 1007.1 600.0 1009.6 606.7 1011.4C613.4 1013.1 621.2 1014.4 626.9 1015.4C632.6 1016.4 635.3 1017.0 641.0 1017.4C646.7 1017.8 655.1 1017.7 661.1 1017.8C667.1 1017.9 671.8 1018.3 677.2 1018.2C682.6 1018.1 687.9 1017.5 693.3 1017.0C698.7 1016.5 704.0 1016.0 709.4 1015.0C714.8 1014.0 720.1 1012.8 725.5 1011.0C730.9 1009.2 736.2 1006.6 741.6 1004.3C747.0 1001.9 753.1 998.8 757.8 996.9C762.5 995.0 765.8 993.8 769.8 992.8C773.8 991.8 777.9 991.4 781.9 991.2C785.9 991.0 790.0 991.2 794.0 991.6C798.0 992.0 802.1 993.2 806.1 993.7C810.1 994.2 814.5 994.7 818.2 994.3C821.9 993.9 824.9 992.7 828.2 991.2C831.6 989.7 834.6 988.6 838.3 985.2C842.0 981.9 846.4 975.8 850.4 971.1C854.4 966.4 858.5 961.7 862.5 957.0C866.5 952.3 870.1 947.6 874.5 942.9C878.9 938.2 883.9 934.2 888.6 928.8C893.3 923.4 898.3 916.7 902.7 910.7C907.1 904.7 910.8 898.7 914.8 892.6C918.8 886.5 922.9 879.4 926.9 874.4C930.9 869.4 934.6 866.4 939.0 862.4C943.4 858.4 948.7 853.8 953.1 850.3C957.5 846.8 961.5 844.4 965.2 841.2C968.9 838.0 973.5 832.8 975.2 831.1" stroke="url(#gphg)" stroke-width="2.5" stroke-linejoin="round" clip-path="url(#k11)"/>
<clipPath id="k12"><rect x="942.0" y="824.3" width="58.0" height="320.6"/></clipPath><path d="M297.3 824.6C298.7 826.9 302.8 834.0 305.6 838.3C308.4 842.5 311.1 846.2 313.9 850.1C316.6 854.0 318.4 857.4 322.1 861.9C325.8 866.4 330.4 872.8 336.3 877.3C342.2 881.8 350.4 884.2 357.5 889.1C364.6 894.0 373.3 901.9 378.8 906.8C384.3 911.7 386.7 914.3 390.6 918.6C394.5 922.9 398.5 929.2 402.4 932.8C406.3 936.3 408.7 937.2 414.2 939.9C419.7 942.6 427.6 945.9 435.5 948.9C443.4 951.9 453.1 954.6 461.4 957.6C469.7 960.6 478.7 964.6 485.1 967.0C491.5 969.4 494.8 970.2 500.0 972.1C505.2 974.0 511.1 975.8 516.1 978.1C521.1 980.5 525.2 983.9 530.2 986.2C535.2 988.6 540.2 990.2 546.3 992.2C552.3 994.2 559.8 996.2 566.5 998.3C573.2 1000.4 579.9 1002.7 586.6 1004.9C593.3 1007.1 600.0 1009.6 606.7 1011.4C613.4 1013.1 621.2 1014.4 626.9 1015.4C632.6 1016.4 635.3 1017.0 641.0 1017.4C646.7 1017.8 655.1 1017.7 661.1 1017.8C667.1 1017.9 671.8 1018.3 677.2 1018.2C682.6 1018.1 687.9 1017.5 693.3 1017.0C698.7 1016.5 704.0 1016.0 709.4 1015.0C714.8 1014.0 720.1 1012.8 725.5 1011.0C730.9 1009.2 736.2 1006.6 741.6 1004.3C747.0 1001.9 753.1 998.8 757.8 996.9C762.5 995.0 765.8 993.8 769.8 992.8C773.8 991.8 777.9 991.4 781.9 991.2C785.9 991.0 790.0 991.2 794.0 991.6C798.0 992.0 802.1 993.2 806.1 993.7C810.1 994.2 814.5 994.7 818.2 994.3C821.9 993.9 824.9 992.7 828.2 991.2C831.6 989.7 834.6 988.6 838.3 985.2C842.0 981.9 846.4 975.8 850.4 971.1C854.4 966.4 858.5 961.7 862.5 957.0C866.5 952.3 870.1 947.6 874.5 942.9C878.9 938.2 883.9 934.2 888.6 928.8C893.3 923.4 898.3 916.7 902.7 910.7C907.1 904.7 910.8 898.7 914.8 892.6C918.8 886.5 922.9 879.4 926.9 874.4C930.9 869.4 934.6 866.4 939.0 862.4C943.4 858.4 948.7 853.8 953.1 850.3C957.5 846.8 961.5 844.4 965.2 841.2C968.9 838.0 973.5 832.8 975.2 831.1" stroke="url(#gphg)" stroke-width="1.9" stroke-linejoin="round" clip-path="url(#k12)"/>
<path d="M2200 96.1h15.5l-7.75 7.8z" fill="#222"/>
<path d="M2200 463.0h15.5l-7.75 7.8z" fill="#222"/>
<path d="M2200 834.4h15.5l-7.75 7.8z" fill="#222"/>
</svg>
<div class="t" style="left:53.50px;top:73.92px;font-size:17.70px;color:#000;transform:scaleX(0.9500);">18</div>
<div class="t" style="left:53.50px;top:126.75px;font-size:17.70px;color:#000;transform:scaleX(0.9500);">12</div>
<div class="t" style="left:62.85px;top:179.58px;font-size:17.70px;color:#000;transform:scaleX(0.9500);">6</div>
<div class="t" style="left:62.85px;top:232.42px;font-size:17.70px;color:#000;transform:scaleX(0.9500);">0</div>
<div class="t" style="left:56.78px;top:285.25px;font-size:17.70px;color:#000;transform:scaleX(0.9800);">-6</div>
<div class="t" style="left:47.13px;top:338.09px;font-size:17.70px;color:#000;transform:scaleX(0.9800);">-12</div>
<div class="t" style="left:47.13px;top:390.92px;font-size:17.70px;color:#000;transform:scaleX(0.9800);">-18</div>
<div class="t" style="left:62.85px;top:441.32px;font-size:17.70px;color:#000;transform:scaleX(0.9500);">1</div>
<div class="t" style="left:48.09px;top:505.28px;font-size:17.70px;color:#000;transform:scaleX(0.9800);">0.8</div>
<div class="t" style="left:48.09px;top:569.24px;font-size:17.70px;color:#000;transform:scaleX(0.9800);">0.6</div>
<div class="t" style="left:48.09px;top:633.20px;font-size:17.70px;color:#000;transform:scaleX(0.9800);">0.4</div>
<div class="t" style="left:48.09px;top:697.16px;font-size:17.70px;color:#000;transform:scaleX(0.9800);">0.2</div>
<div class="t" style="left:62.85px;top:761.12px;font-size:17.70px;color:#000;transform:scaleX(0.9500);">0</div>
<div class="t" style="left:44.15px;top:811.62px;font-size:17.70px;color:#000;transform:scaleX(0.9500);">180</div>
<div class="t" style="left:44.15px;top:851.62px;font-size:17.70px;color:#000;transform:scaleX(0.9500);">135</div>
<div class="t" style="left:53.50px;top:891.62px;font-size:17.70px;color:#000;transform:scaleX(0.9500);">90</div>
<div class="t" style="left:53.50px;top:931.62px;font-size:17.70px;color:#000;transform:scaleX(0.9500);">45</div>
<div class="t" style="left:62.85px;top:971.62px;font-size:17.70px;color:#000;transform:scaleX(0.9500);">0</div>
<div class="t" style="left:47.13px;top:1011.62px;font-size:17.70px;color:#000;transform:scaleX(0.9800);">-45</div>
<div class="t" style="left:47.13px;top:1051.62px;font-size:17.70px;color:#000;transform:scaleX(0.9800);">-90</div>
<div class="t" style="left:37.49px;top:1091.62px;font-size:17.70px;color:#000;transform:scaleX(0.9800);">-135</div>
<div class="t" style="left:37.49px;top:1131.62px;font-size:17.70px;color:#000;transform:scaleX(0.9800);">-180</div>
<div class="t" style="left:203.89px;top:412.12px;font-size:17.70px;color:#000;transform:scaleX(0.9700);">31.5</div>
<div class="t" style="left:425.45px;top:412.12px;font-size:17.70px;color:#000;transform:scaleX(0.9700);">63</div>
<div class="t" style="left:633.48px;top:412.12px;font-size:17.70px;color:#000;transform:scaleX(0.9700);">125</div>
<div class="t" style="left:848.28px;top:412.12px;font-size:17.70px;color:#000;transform:scaleX(0.9700);">250</div>
<div class="t" style="left:1063.68px;top:412.12px;font-size:17.70px;color:#000;transform:scaleX(0.9700);">500</div>
<div class="t" style="left:1282.30px;top:412.12px;font-size:17.70px;color:#000;transform:scaleX(0.9700);">1K</div>
<div class="t" style="left:1497.80px;top:412.12px;font-size:17.70px;color:#000;transform:scaleX(0.9700);">2K</div>
<div class="t" style="left:1712.90px;top:412.12px;font-size:17.70px;color:#000;transform:scaleX(0.9700);">4K</div>
<div class="t" style="left:1928.80px;top:412.12px;font-size:17.70px;color:#000;transform:scaleX(0.9700);">8K</div>
<div class="t" style="left:2138.43px;top:412.12px;font-size:17.70px;color:#000;transform:scaleX(0.9700);">16K</div>
<div class="t" style="left:203.89px;top:782.22px;font-size:17.70px;color:#000;transform:scaleX(0.9700);">31.5</div>
<div class="t" style="left:425.45px;top:782.22px;font-size:17.70px;color:#000;transform:scaleX(0.9700);">63</div>
<div class="t" style="left:633.48px;top:782.22px;font-size:17.70px;color:#000;transform:scaleX(0.9700);">125</div>
<div class="t" style="left:848.28px;top:782.22px;font-size:17.70px;color:#000;transform:scaleX(0.9700);">250</div>
<div class="t" style="left:1063.68px;top:782.22px;font-size:17.70px;color:#000;transform:scaleX(0.9700);">500</div>
<div class="t" style="left:1282.30px;top:782.22px;font-size:17.70px;color:#000;transform:scaleX(0.9700);">1K</div>
<div class="t" style="left:1497.80px;top:782.22px;font-size:17.70px;color:#000;transform:scaleX(0.9700);">2K</div>
<div class="t" style="left:1712.90px;top:782.22px;font-size:17.70px;color:#000;transform:scaleX(0.9700);">4K</div>
<div class="t" style="left:1928.80px;top:782.22px;font-size:17.70px;color:#000;transform:scaleX(0.9700);">8K</div>
<div class="t" style="left:2138.43px;top:782.22px;font-size:17.70px;color:#000;transform:scaleX(0.9700);">16K</div>
<div class="t" style="left:203.89px;top:1154.02px;font-size:17.70px;color:#000;transform:scaleX(0.9700);">31.5</div>
<div class="t" style="left:425.45px;top:1154.02px;font-size:17.70px;color:#000;transform:scaleX(0.9700);">63</div>
<div class="t" style="left:633.48px;top:1154.02px;font-size:17.70px;color:#000;transform:scaleX(0.9700);">125</div>
<div class="t" style="left:848.28px;top:1154.02px;font-size:17.70px;color:#000;transform:scaleX(0.9700);">250</div>
<div class="t" style="left:1063.68px;top:1154.02px;font-size:17.70px;color:#000;transform:scaleX(0.9700);">500</div>
<div class="t" style="left:1282.30px;top:1154.02px;font-size:17.70px;color:#000;transform:scaleX(0.9700);">1K</div>
<div class="t" style="left:1497.80px;top:1154.02px;font-size:17.70px;color:#000;transform:scaleX(0.9700);">2K</div>
<div class="t" style="left:1712.90px;top:1154.02px;font-size:17.70px;color:#000;transform:scaleX(0.9700);">4K</div>
<div class="t" style="left:1928.80px;top:1154.02px;font-size:17.70px;color:#000;transform:scaleX(0.9700);">8K</div>
<div class="t" style="left:2138.43px;top:1154.02px;font-size:17.70px;color:#000;transform:scaleX(0.9700);">16K</div>
<div class="t" style="left:2028.00px;top:86.01px;font-size:24.80px;color:#212121;transform:scaleX(1.0344);-webkit-text-stroke:0.3px #212121;">Magnitude</div>
<div class="t" style="left:2028.60px;top:453.01px;font-size:24.80px;color:#212121;transform:scaleX(0.9907);-webkit-text-stroke:0.3px #212121;">Coherence</div>
<div class="t" style="left:2028.60px;top:824.01px;font-size:24.80px;color:#212121;transform:scaleX(0.9769);-webkit-text-stroke:0.3px #212121;">Phase</div>
<div class="t" style="left:854.50px;top:1263.13px;font-size:23.00px;color:#212121;transform:scaleX(0.9740);-webkit-text-stroke:0.3px #212121;">Select an item in the right bar to change its properties</div>
<div class="abs" style="left:2304px;top:80px;width:192px;height:57.5px;background:#fff;border-radius:3px;box-shadow:0 1.5px 3px rgba(0,0,0,0.28),0 0.5px 1px rgba(0,0,0,0.18)"></div>
<div class="t" style="left:2323.50px;top:94.74px;font-size:26.30px;color:#212121;transform:scaleX(0.9316);-webkit-text-stroke:0.3px #212121;">Three</div>
<svg style="left:0;top:0" width="2560" height="1440" fill="none">
<path d="M2456.5 105.2h15.6l-7.8 7.8z" fill="#222"/>
<defs><filter id="sh" x="-50%" y="-50%" width="200%" height="200%"><feGaussianBlur in="SourceAlpha" stdDeviation="1.6"/><feOffset dy="1.5"/><feComponentTransfer><feFuncA type="linear" slope="0.35"/></feComponentTransfer><feMerge><feMergeNode/><feMergeNode in="SourceGraphic"/></feMerge></filter></defs>
<rect x="2262" y="190" width="58" height="22.5" rx="11.25" fill="#b1b1b1"/>
<circle cx="2275" cy="201" r="15.8" fill="#fafafa" filter="url(#sh)"/>
<rect x="2260.7" y="280.2" width="25.6" height="25.6" rx="2.6" fill="none" stroke="#6e6e6e" stroke-width="3"/>
<rect x="2260.7" y="368.0" width="25.6" height="25.6" rx="2.6" fill="none" stroke="#6e6e6e" stroke-width="3"/>
<rect x="2259.0" y="446.2" width="29" height="29" fill="#4caf50"/><path d="M2264.1 461.4l6.6 6.2l12.2 -13.8" fill="none" stroke="#fff" stroke-width="3.2"/>
<rect x="2259.0" y="526.3" width="29" height="29" fill="#e91e63"/><path d="M2264.1 541.5l6.6 6.2l12.2 -13.8" fill="none" stroke="#fff" stroke-width="3.2"/>
<rect x="2260.7" y="608.2" width="25.6" height="25.6" rx="2.6" fill="none" stroke="#6e6e6e" stroke-width="3"/>
<g transform="translate(2491.2 361.4)" stroke="#1c1c1c" stroke-width="1.7" fill="none"><path d="M16.8 4.6V3a2 2 0 0 0 -2 -2H2.8a2 2 0 0 0 -2 2V14.6a2 2 0 0 0 2 2h1.4"/><rect x="5.8" y="5.8" width="15.9" height="15.8" rx="2.2" fill="#eceeee"/></g>
<g transform="translate(2536.5 363.3)" stroke="#1c1c1c" stroke-width="1.6" fill="none"><path d="M-0.3 3.9H17.1"/><path d="M5.6 3.7V2a1.2 1.2 0 0 1 1.2 -1.200h3.400a1.2 1.2 0 0 1 1.2 1.2V3.7"/><path d="M2.3 4.2V16a2 2 0 0 0 2 2h8.200a2 2 0 0 0 2 -2V4.2"/><path d="M5.1 7.2V14.500M8.350 7.2V14.500M11.600 7.2V14.500" stroke-width="1.7"/></g>
<g transform="translate(2491.2 441.6)" stroke="#1c1c1c" stroke-width="1.7" fill="none"><path d="M16.8 4.6V3a2 2 0 0 0 -2 -2H2.8a2 2 0 0 0 -2 2V14.6a2 2 0 0 0 2 2h1.4"/><rect x="5.8" y="5.8" width="15.9" height="15.8" rx="2.2" fill="#eceeee"/></g>
<g transform="translate(2536.5 443.5)" stroke="#1c1c1c" stroke-width="1.6" fill="none"><path d="M-0.3 3.9H17.1"/><path d="M5.6 3.7V2a1.2 1.2 0 0 1 1.2 -1.200h3.400a1.2 1.2 0 0 1 1.2 1.2V3.7"/><path d="M2.3 4.2V16a2 2 0 0 0 2 2h8.200a2 2 0 0 0 2 -2V4.2"/><path d="M5.1 7.2V14.500M8.350 7.2V14.500M11.600 7.2V14.500" stroke-width="1.7"/></g>
<g transform="translate(2491.2 521.4)" stroke="#1c1c1c" stroke-width="1.7" fill="none"><path d="M16.8 4.6V3a2 2 0 0 0 -2 -2H2.8a2 2 0 0 0 -2 2V14.6a2 2 0 0 0 2 2h1.4"/><rect x="5.8" y="5.8" width="15.9" height="15.8" rx="2.2" fill="#eceeee"/></g>
<g transform="translate(2536.5 523.2)" stroke="#1c1c1c" stroke-width="1.6" fill="none"><path d="M-0.3 3.9H17.1"/><path d="M5.6 3.7V2a1.2 1.2 0 0 1 1.2 -1.200h3.400a1.2 1.2 0 0 1 1.2 1.2V3.7"/><path d="M2.3 4.2V16a2 2 0 0 0 2 2h8.200a2 2 0 0 0 2 -2V4.2"/><path d="M5.1 7.2V14.500M8.350 7.2V14.500M11.600 7.2V14.500" stroke-width="1.7"/></g>
<g transform="translate(2491.2 601.6)" stroke="#1c1c1c" stroke-width="1.7" fill="none"><path d="M16.8 4.6V3a2 2 0 0 0 -2 -2H2.8a2 2 0 0 0 -2 2V14.6a2 2 0 0 0 2 2h1.4"/><rect x="5.8" y="5.8" width="15.9" height="15.8" rx="2.2" fill="#eceeee"/></g>
<g transform="translate(2536.5 603.4)" stroke="#1c1c1c" stroke-width="1.6" fill="none"><path d="M-0.3 3.9H17.1"/><path d="M5.6 3.7V2a1.2 1.2 0 0 1 1.2 -1.200h3.400a1.2 1.2 0 0 1 1.2 1.2V3.7"/><path d="M2.3 4.2V16a2 2 0 0 0 2 2h8.200a2 2 0 0 0 2 -2V4.2"/><path d="M5.1 7.2V14.500M8.350 7.2V14.500M11.600 7.2V14.500" stroke-width="1.7"/></g>
<rect x="2315.2" y="388.9" width="229" height="6.5" fill="#c0c3dc"/><rect x="2315.2" y="402.9" width="229" height="6.6" fill="#c0c3dc"/>
<g transform="translate(2499 1316.5)" fill="none" stroke="#111" stroke-width="3"><path d="M-10 -3a14.2 14.2 0 0 1 20 0"/><path d="M-6.2 1.2a8.8 8.8 0 0 1 12.4 0"/><circle cx="0" cy="6.4" r="2.5" fill="#111" stroke="none"/></g>
</svg>
<div class="t" style="left:2339.50px;top:192.25px;font-size:22.50px;color:#212121;transform:scaleX(0.9626);-webkit-text-stroke:0.3px #212121;">Generator</div>
<div class="t" style="left:2485.00px;top:191.85px;font-size:22.50px;color:#212121;transform:scaleX(0.9574);-webkit-text-stroke:0.3px #212121;">-3dB</div>
<div class="t" style="left:2315.20px;top:283.55px;font-size:22.50px;color:#212121;transform:scaleX(0.9877);-webkit-text-stroke:0.3px #212121;">Target Trace</div>
<div class="t" style="left:2315.60px;top:356.95px;font-size:22.50px;color:#212121;-webkit-text-stroke:0.3px #212121;">Measurement</div>
<div class="t" style="left:2315.60px;top:451.45px;font-size:22.50px;color:#212121;-webkit-text-stroke:0.3px #212121;">Limmer 15tbx40</div>
<div class="t" style="left:2315.60px;top:531.55px;font-size:22.50px;color:#212121;-webkit-text-stroke:0.3px #212121;">Limmer 15lex1600fe</div>
<div class="t" style="left:2315.60px;top:611.35px;font-size:22.50px;color:#212121;transform:scaleX(0.9645);-webkit-text-stroke:0.3px #212121;">Measure @ 19:07</div>
<svg style="left:0;top:0" width="2560" height="1440"><g transform="translate(2288.05 1316.70) scale(1.0000)"><g>
<defs>
<linearGradient id="lgTb" gradientUnits="userSpaceOnUse" x1="-16.5" x2="17" y1="0" y2="0"><stop offset="0" stop-color="#d8104c"/><stop offset="0.3" stop-color="#ee1050"/><stop offset="0.6" stop-color="#d40fb0"/><stop offset="0.8" stop-color="#b80cf0"/><stop offset="1" stop-color="#a414e0"/></linearGradient>
<linearGradient id="lgBb" gradientUnits="userSpaceOnUse" x1="-16.5" x2="17" y1="0" y2="0"><stop offset="0" stop-color="#3d4fe8"/><stop offset="0.28" stop-color="#4a5af0"/><stop offset="0.42" stop-color="#8a8aa0"/><stop offset="0.58" stop-color="#c8b060"/><stop offset="0.72" stop-color="#fcd400"/><stop offset="1" stop-color="#f8d820"/></linearGradient>
<linearGradient id="lgD1b" gradientUnits="userSpaceOnUse" x1="-10" x2="10" y1="-8" y2="8"><stop offset="0" stop-color="#ee1050"/><stop offset="0.45" stop-color="#e04848"/><stop offset="0.7" stop-color="#e8a030"/><stop offset="1" stop-color="#fcd400"/></linearGradient>
<linearGradient id="lgD2b" gradientUnits="userSpaceOnUse" x1="10" x2="-10" y1="-8" y2="8"><stop offset="0" stop-color="#c00cf0"/><stop offset="0.5" stop-color="#8a22d8"/><stop offset="1" stop-color="#4450f0"/></linearGradient>
</defs>
<circle cx="0" cy="0" r="22.8" fill="#fff" stroke="#4050c8" stroke-width="2.2"/>
<rect x="-16.5" y="-10.4" width="33.6" height="3.4" fill="url(#lgTb)"/>
<rect x="-16.5" y="6.8" width="33.3" height="3.3" fill="url(#lgBb)"/>
<path d="M-12 -8.4 C-3 -8.4 -1.5 -2 0.3 0.2 C3 3.6 5 8.2 13 8.2" fill="none" stroke="url(#lgD1b)" stroke-width="3.1"/>
<path d="M12 -8.4 C4 -8.4 2 -2.5 0 0 C-2.5 3.2 -5 8.2 -13 8.2" fill="none" stroke="url(#lgD2b)" stroke-width="3.1"/>
</g></g></svg>
<div class="t" style="left:2325.00px;top:1305.18px;font-size:24.60px;color:#3f51b5;transform:scaleX(0.8945);-webkit-text-stroke:0.3px #3f51b5;">ABOUT</div>
<div class="abs" style="left:574.4px;top:1368px;width:256px;height:64px;background:#4b4b4b"></div>
<div class="abs" style="left:323px;top:1429px;width:243.3px;height:3.2px;background:#ccb27a"></div>
<div class="abs" style="left:574.4px;top:1429px;width:256px;height:3.2px;background:#ccb27a"></div>
<div class="abs" style="left:2551.6px;top:1368px;width:1.4px;height:72px;background:#7a7a7a"></div>
<svg style="left:0;top:0" width="2560" height="1440" fill="none">
<defs>
<linearGradient id="fx1" x1="0.8" y1="0.1" x2="0.25" y2="0.95"><stop offset="0" stop-color="#fff36a"/><stop offset="0.3" stop-color="#ffb02e"/><stop offset="0.6" stop-color="#ff6a2a"/><stop offset="0.85" stop-color="#ff2a62"/><stop offset="1" stop-color="#e0208a"/></linearGradient>
<radialGradient id="fx2" cx="0.45" cy="0.4" r="0.6"><stop offset="0" stop-color="#a060ff"/><stop offset="1" stop-color="#6a36d8"/></radialGradient>
<linearGradient id="ed1" x1="0.1" y1="0.2" x2="0.5" y2="1"><stop offset="0" stop-color="#1c9cf2"/><stop offset="0.5" stop-color="#0f84e2"/><stop offset="1" stop-color="#0b62c8"/></linearGradient>
<linearGradient id="ed2" x1="0.05" y1="0.3" x2="1" y2="0.6"><stop offset="0" stop-color="#2ab8fa"/><stop offset="0.45" stop-color="#2fc6c6"/><stop offset="0.75" stop-color="#46d890"/><stop offset="1" stop-color="#70e44e"/></linearGradient>
<linearGradient id="ed3" x1="0.1" y1="0" x2="0.8" y2="1"><stop offset="0" stop-color="#2470c8"/><stop offset="0.5" stop-color="#1a5cb0"/><stop offset="1" stop-color="#184c98"/></linearGradient>
<linearGradient id="fo1" x1="0" y1="0" x2="0" y2="1"><stop offset="0" stop-color="#ffd76a"/><stop offset="1" stop-color="#ffca4a"/></linearGradient>
</defs>
<path d="M24.7 1394.3L35.7 1392.8V1403.1H24.7zM37.2 1392.6L51.5 1390.8V1403.1H37.2zM24.7 1404.5H35.7V1415L24.7 1413.6zM37.2 1404.5H51.5V1417.1L37.2 1415.2z" fill="#fff"/>
<g><path d="M103.2 1388.2a1.6 1.6 0 0 1 1.6 -1.9h10.3l2.2 2h18a1.6 1.6 0 0 1 1.6 1.6v2H103.2z" fill="#e8aa1a"/><rect x="103.2" y="1389.6" width="33.7" height="23.3" rx="1.4" fill="url(#fo1)"/><path d="M109 1413.6V1401.6a1.7 1.7 0 0 1 1.7 -1.7h18.6a1.7 1.7 0 0 1 1.7 1.7V1413.6h-5.6V1405.6H114.8V1413.6z" fill="#3d95e6"/></g>
<g><path d="M198.2 1417.6c-9.2 0 -16.4 -7 -16.4 -15.6c0 -4.6 1.6 -8.4 3.8 -10.6c-0.2 -1.600 0.700 -3.200 1.800 -4.200c0.300 1.400 1 2.500 2 3.200c1.500 -1 3.300 -1.300 4.900 -1.100c0.600 -3.600 3.200 -6 6 -7.700c-0.300 2 0.300 3.700 1.400 5c1.600 1.700 4.400 3.200 6.400 5.400c0.800 -0.500 1.300 -1.400 1.400 -2.400c3 3.200 4.600 7.600 4.600 12.400c0 8.600 -6.900 15.600 -15.900 15.600z" fill="url(#fx1)"/><path d="M200.300 1381.600c-0.300 2 0.300 3.700 1.400 5c1.600 1.700 4.400 3.200 6.400 5.400c0.800 -0.500 1.300 -1.400 1.400 -2.400c3 3.200 4.600 7.600 4.600 12.400c0 2 -0.400 4 -1.100 5.800c0.700 -5.800 -2.400 -10.200 -6.600 -12.400c-3.600 -1.900 -7.400 -3.400 -8.300 -7.400c-0.500 -2.600 0.500 -5 2.200 -6.400z" fill="#ffe14a" opacity="0.9"/><circle cx="198.5" cy="1400.4" r="6.900" fill="url(#fx2)"/><path d="M190.600 1398.800c1.200 -3.400 4.600 -5.400 8 -5.100c-1.400 0.800 -2.200 1.900 -2 3.100c2.400 -0.200 4.400 0.600 5.400 2.200c-3 -0.500 -4.900 0.400 -5.900 2.300c-2.200 0.800 -4.800 -0.200 -5.500 -2.500z" fill="#ff9a2e"/><path d="M184.200 1394.600c0.900 -1.800 2.600 -3.200 4.600 -3.600c-1 1.300 -1.300 2.800 -0.900 4.400c-1.400 0.200 -2.700 -0.100 -3.700 -0.800z" fill="#ffb43a"/></g>
<g transform="translate(276.8 1400)"><circle cx="0" cy="0" r="19.3" fill="url(#ed1)"/><path d="M-5.6 1.600C-5 5 -2 8.600 3 9.600C7 10.200 13 9.800 16.800 8.500A19.300 19.300 0 0 1 -5.400 18.500C-7.800 14 -9.200 9 -8.200 5C-7.600 3 -6.600 2 -5.600 1.600Z" fill="url(#ed3)"/><path d="M-4.700 -0.600C-4.700 -3 -2.800 -4.500 -0.400 -4.500C2 -4.500 3.400 -2.600 3.300 -0.400C3.200 1.600 2.900 3 4.400 4.500C6.500 6.200 10.500 6.600 14 5.700C16 5.200 17.800 4 19.300 1.500L19.500 6.500L16.800 8.500C13 9.800 7 10.200 3 9.600C-1.500 8.600 -4.700 4 -4.700 -0.600Z" fill="#151a24"/><path d="M-18.900 -3.900A19.300 19.300 0 0 1 19.300 0.300C18.800 3 17 4.800 14 5.600C10.500 6.500 6.500 6 4.400 4.400C3 3.200 3.100 1 3.300 -0.800C3.400 -3.400 2 -5.400 0 -6.600C-2.600 -8.200 -5 -9.600 -8.200 -9.800C-13 -9.800 -17 -7.400 -18.900 -3.900Z" fill="url(#ed2)"/></g>
<path d="M348.56 1390.26L348.74 1386.70L354.46 1386.70L354.64 1390.26L356.41 1390.99L359.06 1388.61L363.09 1392.64L360.71 1395.29L361.44 1397.06L365.00 1397.24L365.00 1402.96L361.44 1403.14L360.71 1404.91L363.09 1407.56L359.06 1411.59L356.41 1409.21L354.64 1409.94L354.46 1413.50L348.74 1413.50L348.56 1409.94L346.79 1409.21L344.14 1411.59L340.11 1407.56L342.49 1404.91L341.76 1403.14L338.20 1402.96L338.20 1397.24L341.76 1397.06L342.49 1395.29L340.11 1392.64L344.14 1388.61L346.79 1390.99ZM344.70 1400.10a6.90 6.90 0 1 0 13.80 0a6.90 6.90 0 1 0 -13.80 0Z" fill="#fff" fill-rule="evenodd" stroke="#fff" stroke-width="1.2" stroke-linejoin="round"/>
<path d="M2123 1408.8L2132.9 1398.9L2142.8 1408.8" stroke="#fff" stroke-width="1.5"/>
<g stroke="#fff" stroke-width="1.5"><rect x="2177.3" y="1398.2" width="9.6" height="11.6" rx="2"/><path d="M2187 1402.6l5.4 -3.2v9.2l-5.4 -3.2"/><path d="M2178 1395.2a9.6 9.6 0 0 1 13.4 0.600"/><path d="M2178 1412.800a9.6 9.6 0 0 0 13.4 -0.600"/></g>
<g><rect x="2224.800" y="1397.800" width="21" height="13.200" stroke="#fff" stroke-width="1.5"/><rect x="2227.600" y="1400.600" width="15.400" height="7.600" fill="#fff"/><rect x="2246.400" y="1401.800" width="1.800" height="5.200" fill="#fff"/></g>
<g stroke="#fff" stroke-width="1.6"><path d="M2279.200 1415.200a17.600 17.600 0 0 1 17.600 -18.600"/><path d="M2284.800 1415.200a12 12 0 0 1 12 -13"/><path d="M2290.300 1415.200a6.400 6.400 0 0 1 6.400 -7.300"/><circle cx="2295" cy="1413.200" r="2.300" fill="#fff" stroke="none"/></g>
<g stroke="#fff" stroke-width="1.5"><path d="M2325.800 1400.200h3.800l5.800 -5.600v19.800l-5.800 -5.600h-3.800z"/><path d="M2338.600 1400.600a5.600 5.600 0 0 1 0 7.800"/><path d="M2341.800 1397.300a10 10 0 0 1 0 14.400"/><path d="M2345 1394a14.600 14.600 0 0 1 0 21"/></g>
<path d="M2495 1392h24v20.400h-8.600l-3.600 3.500l-3.600 -3.500H2495z" stroke="#fff" stroke-width="1.6"/>
</svg>
<svg style="left:0;top:0" width="2560" height="1440"><g transform="translate(609.40 1400.00) scale(0.7400)"><g>
<defs>
<linearGradient id="lgTc" gradientUnits="userSpaceOnUse" x1="-16.5" x2="17" y1="0" y2="0"><stop offset="0" stop-color="#d8104c"/><stop offset="0.3" stop-color="#ee1050"/><stop offset="0.6" stop-color="#d40fb0"/><stop offset="0.8" stop-color="#b80cf0"/><stop offset="1" stop-color="#a414e0"/></linearGradient>
<linearGradient id="lgBc" gradientUnits="userSpaceOnUse" x1="-16.5" x2="17" y1="0" y2="0"><stop offset="0" stop-color="#3d4fe8"/><stop offset="0.28" stop-color="#4a5af0"/><stop offset="0.42" stop-color="#8a8aa0"/><stop offset="0.58" stop-color="#c8b060"/><stop offset="0.72" stop-color="#fcd400"/><stop offset="1" stop-color="#f8d820"/></linearGradient>
<linearGradient id="lgD1c" gradientUnits="userSpaceOnUse" x1="-10" x2="10" y1="-8" y2="8"><stop offset="0" stop-color="#ee1050"/><stop offset="0.45" stop-color="#e04848"/><stop offset="0.7" stop-color="#e8a030"/><stop offset="1" stop-color="#fcd400"/></linearGradient>
<linearGradient id="lgD2c" gradientUnits="userSpaceOnUse" x1="10" x2="-10" y1="-8" y2="8"><stop offset="0" stop-color="#c00cf0"/><stop offset="0.5" stop-color="#8a22d8"/><stop offset="1" stop-color="#4450f0"/></linearGradient>
</defs>
<circle cx="0" cy="0" r="22.6" fill="#fff" stroke="#3a46c0" stroke-width="2.4"/>
<rect x="-16.5" y="-10.4" width="33.6" height="3.4" fill="url(#lgTc)"/>
<rect x="-16.5" y="6.8" width="33.3" height="3.3" fill="url(#lgBc)"/>
<path d="M-12 -8.4 C-3 -8.4 -1.5 -2 0.3 0.2 C3 3.6 5 8.2 13 8.2" fill="none" stroke="url(#lgD1c)" stroke-width="3.1"/>
<path d="M12 -8.4 C4 -8.4 2 -2.5 0 0 C-2.5 3.2 -5 8.2 -13 8.2" fill="none" stroke="url(#lgD2c)" stroke-width="3.1"/>
</g></g></svg>
<div class="t" style="left:375.60px;top:1392.06px;font-size:19.30px;color:#fff;transform:scaleX(0.9785);">Einstellungen</div>
<div class="t" style="left:632.00px;top:1392.06px;font-size:19.30px;color:#fff;transform:scaleX(1.0117);">Open Sound Meter</div>
<div class="t" style="left:1930.90px;top:1375.44px;font-size:25.00px;color:#c6c6c6;transform:scaleX(0.8480);">U:</div>
<div class="t" style="left:1930.90px;top:1411.64px;font-size:25.00px;color:#c6c6c6;transform:scaleX(0.8720);">D:</div>
<div class="t" style="left:2020.90px;top:1375.44px;font-size:25.00px;color:#c6c6c6;transform:scaleX(1.0619);">0 kbit/s</div>
<div class="t" style="left:2021.90px;top:1411.64px;font-size:25.00px;color:#c6c6c6;transform:scaleX(1.0493);">2 kbit/s</div>
<div class="t" style="left:2396.00px;top:1380.99px;font-size:18.20px;color:#fff;transform:scaleX(0.9662);">22:21</div>
<div class="t" style="left:2374.00px;top:1412.79px;font-size:18.20px;color:#fff;transform:scaleX(0.9860);">20.06.2025</div>
</body></html>
